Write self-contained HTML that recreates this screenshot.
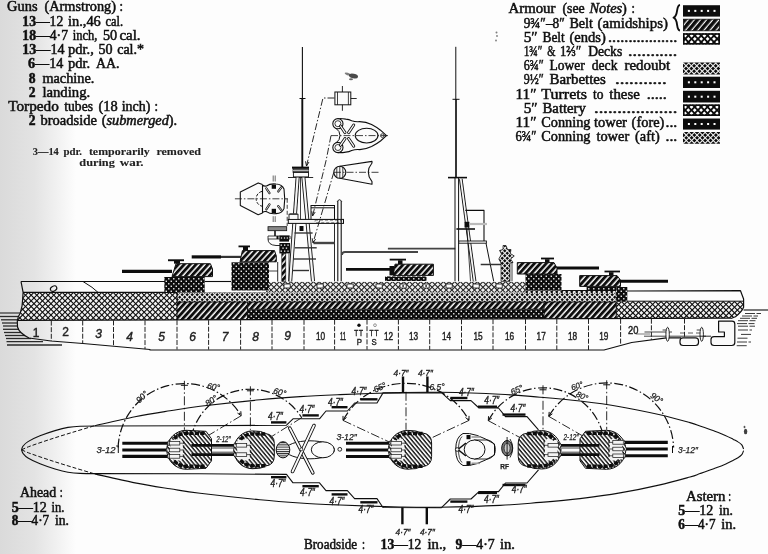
<!DOCTYPE html>
<html><head><meta charset="utf-8"><title>Battleship plan</title>
<style>html,body{margin:0;padding:0;background:#fdfdfd;}svg{display:block}</style>
</head><body>
<svg width="768" height="554" viewBox="0 0 768 554">
<filter id="soft" x="0" y="0" width="100%" height="100%" filterUnits="userSpaceOnUse"><feGaussianBlur stdDeviation="0.3"/></filter>
<g filter="url(#soft)">
<defs>
<linearGradient id="lg" x1="0" x2="1" y1="0" y2="0">
<stop offset="0" stop-color="#dadada"/><stop offset="0.45" stop-color="#e3e3e3"/><stop offset="0.75" stop-color="#f1f1f1"/><stop offset="1" stop-color="#fdfdfd"/>
</linearGradient>
<pattern id="dot" width="5" height="5" patternUnits="userSpaceOnUse">
<rect width="5" height="5" fill="#111"/><rect x="0.6" y="0.6" width="1.35" height="1.35" fill="#fff"/><rect x="3.1" y="3.1" width="1.35" height="1.35" fill="#fff"/>
</pattern>
<pattern id="diag" width="4.4" height="4.4" patternUnits="userSpaceOnUse" patternTransform="rotate(-48)">
<rect width="4.4" height="4.4" fill="#fafafa"/><rect width="4.4" height="2.9" fill="#111"/>
</pattern>
<pattern id="diagL" width="4.7" height="4.7" patternUnits="userSpaceOnUse" patternTransform="rotate(-50)">
<rect width="4.7" height="4.7" fill="#fafafa"/><rect width="4.7" height="3.5" fill="#111"/>
</pattern>
<pattern id="xh" width="5.66" height="5.66" patternUnits="userSpaceOnUse">
<rect width="5.66" height="5.66" fill="#f0f0f0"/><path d="M-1,-1 L6.66,6.66 M-1,6.66 L6.66,-1 M-1,4.66 L1,6.66 M4.66,-1 L6.66,1 M4.66,6.66 L6.66,4.66 M-1,1 L1,-1" stroke="#111" stroke-width="1.15" fill="none"/>
</pattern>
<pattern id="xhL" width="4.6" height="4.6" patternUnits="userSpaceOnUse" patternTransform="rotate(45)">
<rect width="4.6" height="4.6" fill="#111"/><rect x="1" y="1" width="2.6" height="2.6" fill="#fff"/>
</pattern>
<pattern id="xfL" width="3.9" height="3.9" patternUnits="userSpaceOnUse" patternTransform="rotate(45)">
<rect width="3.9" height="3.9" fill="#111"/><rect x="0.9" y="0.9" width="2.15" height="2.15" fill="#fff"/>
</pattern>
<pattern id="xb" width="4" height="4" patternUnits="userSpaceOnUse" patternTransform="rotate(45)">
<rect width="4" height="4" fill="#2a2a2a"/><rect x="0.6" y="0.6" width="2.9" height="2.9" fill="#eee"/>
</pattern>
<pattern id="xf" width="3.75" height="3.75" patternUnits="userSpaceOnUse" patternTransform="rotate(45)">
<rect width="3.75" height="3.75" fill="#111"/><rect x="0.75" y="0.75" width="2.3" height="2.3" fill="#f4f4f4"/>
</pattern>
<pattern id="hl" width="3" height="2.2" patternUnits="userSpaceOnUse">
<rect width="3" height="2.2" fill="#fafafa"/><rect width="3" height="1" fill="#222"/>
</pattern>
</defs>
<rect x="0.0" y="0.0" width="768.0" height="554.0" fill="#fdfdfd" stroke="none" stroke-width="1" rx="0" />
<rect x="0.0" y="0.0" width="76.0" height="554.0" fill="url(#lg)" stroke="none" stroke-width="1" rx="0" />
<text x="7.0" y="11.3" font-size="13.6" font-family='"Liberation Serif", serif' font-weight="normal" font-style="normal" text-anchor="start" fill="#111" textLength="30.5" lengthAdjust="spacingAndGlyphs"  stroke="#111" stroke-width="0.5">Guns</text>
<text x="44.5" y="11.3" font-size="13.6" font-family='"Liberation Serif", serif' font-weight="normal" font-style="normal" text-anchor="start" fill="#111" textLength="71.5" lengthAdjust="spacingAndGlyphs"  stroke="#111" stroke-width="0.5">(Armstrong)</text>
<text x="119.5" y="11.3" font-size="13.6" font-family='"Liberation Serif", serif' font-weight="normal" font-style="normal" text-anchor="start" fill="#111" textLength="3.5" lengthAdjust="spacingAndGlyphs"  stroke="#111" stroke-width="0.5">:</text>
<text x="22.3" y="25.6" font-size="13.6" font-family='"Liberation Serif", serif' font-weight="normal" font-style="normal" text-anchor="start" fill="#111" textLength="41.0" lengthAdjust="spacingAndGlyphs"  stroke="#111" stroke-width="0.5"><tspan font-weight="bold">13</tspan>—12</text>
<text x="68.0" y="25.6" font-size="13.6" font-family='"Liberation Serif", serif' font-weight="normal" font-style="normal" text-anchor="start" fill="#111" textLength="32.8" lengthAdjust="spacingAndGlyphs"  stroke="#111" stroke-width="0.5">in.,46</text>
<text x="105.5" y="25.6" font-size="13.6" font-family='"Liberation Serif", serif' font-weight="normal" font-style="normal" text-anchor="start" fill="#111" textLength="17.5" lengthAdjust="spacingAndGlyphs"  stroke="#111" stroke-width="0.5">cal.</text>
<text x="22.3" y="40.0" font-size="13.6" font-family='"Liberation Serif", serif' font-weight="normal" font-style="normal" text-anchor="start" fill="#111" textLength="45.7" lengthAdjust="spacingAndGlyphs"  stroke="#111" stroke-width="0.5"><tspan font-weight="bold">18</tspan>—4·7</text>
<text x="72.7" y="40.0" font-size="13.6" font-family='"Liberation Serif", serif' font-weight="normal" font-style="normal" text-anchor="start" fill="#111" textLength="24.6" lengthAdjust="spacingAndGlyphs"  stroke="#111" stroke-width="0.5">inch,</text>
<text x="103.0" y="40.0" font-size="13.6" font-family='"Liberation Serif", serif' font-weight="normal" font-style="normal" text-anchor="start" fill="#111" textLength="14.2" lengthAdjust="spacingAndGlyphs"  stroke="#111" stroke-width="0.5">50</text>
<text x="119.5" y="40.0" font-size="13.6" font-family='"Liberation Serif", serif' font-weight="normal" font-style="normal" text-anchor="start" fill="#111" textLength="21.1" lengthAdjust="spacingAndGlyphs"  stroke="#111" stroke-width="0.5">cal.</text>
<text x="22.3" y="54.2" font-size="13.6" font-family='"Liberation Serif", serif' font-weight="normal" font-style="normal" text-anchor="start" fill="#111" textLength="42.2" lengthAdjust="spacingAndGlyphs"  stroke="#111" stroke-width="0.5"><tspan font-weight="bold">13</tspan>—14</text>
<text x="68.0" y="54.2" font-size="13.6" font-family='"Liberation Serif", serif' font-weight="normal" font-style="normal" text-anchor="start" fill="#111" textLength="25.8" lengthAdjust="spacingAndGlyphs"  stroke="#111" stroke-width="0.5">pdr.,</text>
<text x="98.4" y="54.2" font-size="13.6" font-family='"Liberation Serif", serif' font-weight="normal" font-style="normal" text-anchor="start" fill="#111" textLength="14.1" lengthAdjust="spacingAndGlyphs"  stroke="#111" stroke-width="0.5">50</text>
<text x="117.2" y="54.2" font-size="13.6" font-family='"Liberation Serif", serif' font-weight="normal" font-style="normal" text-anchor="start" fill="#111" textLength="26.8" lengthAdjust="spacingAndGlyphs"  stroke="#111" stroke-width="0.5">cal.*</text>
<text x="28.0" y="68.4" font-size="13.6" font-family='"Liberation Serif", serif' font-weight="normal" font-style="normal" text-anchor="start" fill="#111" textLength="35.3" lengthAdjust="spacingAndGlyphs"  stroke="#111" stroke-width="0.5"><tspan font-weight="bold">6</tspan>—14</text>
<text x="68.0" y="68.4" font-size="13.6" font-family='"Liberation Serif", serif' font-weight="normal" font-style="normal" text-anchor="start" fill="#111" textLength="22.2" lengthAdjust="spacingAndGlyphs"  stroke="#111" stroke-width="0.5">pdr.</text>
<text x="96.0" y="68.4" font-size="13.6" font-family='"Liberation Serif", serif' font-weight="normal" font-style="normal" text-anchor="start" fill="#111" textLength="23.5" lengthAdjust="spacingAndGlyphs"  stroke="#111" stroke-width="0.5">AA.</text>
<text x="28.7" y="82.6" font-size="13.6" font-family='"Liberation Serif", serif' font-weight="normal" font-style="normal" text-anchor="start" fill="#111" textLength="6.8" lengthAdjust="spacingAndGlyphs"  stroke="#111" stroke-width="0.5"><tspan font-weight="bold">8</tspan></text>
<text x="42.4" y="82.6" font-size="13.6" font-family='"Liberation Serif", serif' font-weight="normal" font-style="normal" text-anchor="start" fill="#111" textLength="51.9" lengthAdjust="spacingAndGlyphs"  stroke="#111" stroke-width="0.5">machine.</text>
<text x="28.7" y="96.8" font-size="13.6" font-family='"Liberation Serif", serif' font-weight="normal" font-style="normal" text-anchor="start" fill="#111" textLength="6.8" lengthAdjust="spacingAndGlyphs"  stroke="#111" stroke-width="0.5"><tspan font-weight="bold">2</tspan></text>
<text x="42.4" y="96.8" font-size="13.6" font-family='"Liberation Serif", serif' font-weight="normal" font-style="normal" text-anchor="start" fill="#111" textLength="47.8" lengthAdjust="spacingAndGlyphs"  stroke="#111" stroke-width="0.5">landing.</text>
<text x="8.2" y="111.0" font-size="13.6" font-family='"Liberation Serif", serif' font-weight="normal" font-style="normal" text-anchor="start" fill="#111" textLength="50.6" lengthAdjust="spacingAndGlyphs"  stroke="#111" stroke-width="0.5">Torpedo</text>
<text x="64.3" y="111.0" font-size="13.6" font-family='"Liberation Serif", serif' font-weight="normal" font-style="normal" text-anchor="start" fill="#111" textLength="28.7" lengthAdjust="spacingAndGlyphs"  stroke="#111" stroke-width="0.5">tubes</text>
<text x="98.4" y="111.0" font-size="13.6" font-family='"Liberation Serif", serif' font-weight="normal" font-style="normal" text-anchor="start" fill="#111" textLength="19.2" lengthAdjust="spacingAndGlyphs"  stroke="#111" stroke-width="0.5">(18</text>
<text x="121.7" y="111.0" font-size="13.6" font-family='"Liberation Serif", serif' font-weight="normal" font-style="normal" text-anchor="start" fill="#111" textLength="28.7" lengthAdjust="spacingAndGlyphs"  stroke="#111" stroke-width="0.5">inch)</text>
<text x="154.5" y="111.0" font-size="13.6" font-family='"Liberation Serif", serif' font-weight="normal" font-style="normal" text-anchor="start" fill="#111" textLength="3.5" lengthAdjust="spacingAndGlyphs"  stroke="#111" stroke-width="0.5">:</text>
<text x="28.7" y="125.2" font-size="13.6" font-family='"Liberation Serif", serif' font-weight="normal" font-style="normal" text-anchor="start" fill="#111" textLength="6.8" lengthAdjust="spacingAndGlyphs"  stroke="#111" stroke-width="0.5"><tspan font-weight="bold">2</tspan></text>
<text x="40.5" y="125.2" font-size="13.6" font-family='"Liberation Serif", serif' font-weight="normal" font-style="normal" text-anchor="start" fill="#111" textLength="56.5" lengthAdjust="spacingAndGlyphs"  stroke="#111" stroke-width="0.5">broadside</text>
<text x="101.7" y="125.2" font-size="13.6" font-family='"Liberation Serif", serif' font-weight="normal" font-style="normal" text-anchor="start" fill="#111" textLength="75.5" lengthAdjust="spacingAndGlyphs"  stroke="#111" stroke-width="0.5">(<tspan font-style="italic">submerged</tspan>).</text>
<text x="32.8" y="154.8" font-size="10.4" font-family='"Liberation Serif", serif' font-weight="bold" font-style="normal" text-anchor="start" fill="#222" textLength="26.0" lengthAdjust="spacingAndGlyphs"  stroke="#222" stroke-width="0.1">3—14</text>
<text x="63.4" y="154.8" font-size="10.4" font-family='"Liberation Serif", serif' font-weight="bold" font-style="normal" text-anchor="start" fill="#222" textLength="18.6" lengthAdjust="spacingAndGlyphs"  stroke="#222" stroke-width="0.1">pdr.</text>
<text x="88.9" y="154.8" font-size="10.4" font-family='"Liberation Serif", serif' font-weight="bold" font-style="normal" text-anchor="start" fill="#222" textLength="60.9" lengthAdjust="spacingAndGlyphs"  stroke="#222" stroke-width="0.1">temporarily</text>
<text x="156.4" y="154.8" font-size="10.4" font-family='"Liberation Serif", serif' font-weight="bold" font-style="normal" text-anchor="start" fill="#222" textLength="44.6" lengthAdjust="spacingAndGlyphs"  stroke="#222" stroke-width="0.1">removed</text>
<text x="79.3" y="166.3" font-size="10.4" font-family='"Liberation Serif", serif' font-weight="bold" font-style="normal" text-anchor="start" fill="#222" textLength="35.5" lengthAdjust="spacingAndGlyphs"  stroke="#222" stroke-width="0.1">during</text>
<text x="119.8" y="166.3" font-size="10.4" font-family='"Liberation Serif", serif' font-weight="bold" font-style="normal" text-anchor="start" fill="#222" textLength="23.8" lengthAdjust="spacingAndGlyphs"  stroke="#222" stroke-width="0.1">war.</text>
<text x="508.5" y="12.9" font-size="13.6" font-family='"Liberation Serif", serif' font-weight="normal" font-style="normal" text-anchor="start" fill="#111" textLength="46.9" lengthAdjust="spacingAndGlyphs"  stroke="#111" stroke-width="0.5">Armour</text>
<text x="562.4" y="12.9" font-size="13.6" font-family='"Liberation Serif", serif' font-weight="normal" font-style="normal" text-anchor="start" fill="#111" textLength="22.3" lengthAdjust="spacingAndGlyphs"  stroke="#111" stroke-width="0.5">(see</text>
<text x="589.4" y="12.9" font-size="13.6" font-family='"Liberation Serif", serif' font-weight="normal" font-style="normal" text-anchor="start" fill="#111" textLength="37.5" lengthAdjust="spacingAndGlyphs"  stroke="#111" stroke-width="0.5"><tspan font-style="italic">Notes</tspan>)</text>
<text x="631.6" y="12.9" font-size="13.6" font-family='"Liberation Serif", serif' font-weight="normal" font-style="normal" text-anchor="start" fill="#111" textLength="3.4" lengthAdjust="spacingAndGlyphs"  stroke="#111" stroke-width="0.5">:</text>
<text x="523.7" y="27.7" font-size="13.6" font-family='"Liberation Serif", serif' font-weight="normal" font-style="normal" text-anchor="start" fill="#111" textLength="41.1" lengthAdjust="spacingAndGlyphs"  stroke="#111" stroke-width="0.5">9¾″–8″</text>
<text x="569.4" y="27.7" font-size="13.6" font-family='"Liberation Serif", serif' font-weight="normal" font-style="normal" text-anchor="start" fill="#111" textLength="23.5" lengthAdjust="spacingAndGlyphs"  stroke="#111" stroke-width="0.5">Belt</text>
<text x="597.6" y="27.7" font-size="13.6" font-family='"Liberation Serif", serif' font-weight="normal" font-style="normal" text-anchor="start" fill="#111" textLength="70.3" lengthAdjust="spacingAndGlyphs"  stroke="#111" stroke-width="0.5">(amidships)</text>
<text x="523.7" y="42.2" font-size="13.6" font-family='"Liberation Serif", serif' font-weight="normal" font-style="normal" text-anchor="start" fill="#111" textLength="14.1" lengthAdjust="spacingAndGlyphs"  stroke="#111" stroke-width="0.5">5″</text>
<text x="542.5" y="42.2" font-size="13.6" font-family='"Liberation Serif", serif' font-weight="normal" font-style="normal" text-anchor="start" fill="#111" textLength="22.3" lengthAdjust="spacingAndGlyphs"  stroke="#111" stroke-width="0.5">Belt</text>
<text x="569.4" y="42.2" font-size="13.6" font-family='"Liberation Serif", serif' font-weight="normal" font-style="normal" text-anchor="start" fill="#111" textLength="36.4" lengthAdjust="spacingAndGlyphs"  stroke="#111" stroke-width="0.5">(ends)</text>
<text x="608.0" y="42.2" font-size="13.6" font-family='"Liberation Serif", serif' font-weight="normal" font-style="normal" text-anchor="start" fill="#111" textLength="69.3" lengthAdjust="spacingAndGlyphs"  stroke="#111" stroke-width="0.5">.................</text>
<text x="523.7" y="56.2" font-size="13.6" font-family='"Liberation Serif", serif' font-weight="normal" font-style="normal" text-anchor="start" fill="#111" textLength="18.8" lengthAdjust="spacingAndGlyphs"  stroke="#111" stroke-width="0.5">1¾″</text>
<text x="547.2" y="56.2" font-size="13.6" font-family='"Liberation Serif", serif' font-weight="normal" font-style="normal" text-anchor="start" fill="#111" textLength="8.2" lengthAdjust="spacingAndGlyphs"  stroke="#111" stroke-width="0.5">&amp;</text>
<text x="560.0" y="56.2" font-size="13.6" font-family='"Liberation Serif", serif' font-weight="normal" font-style="normal" text-anchor="start" fill="#111" textLength="21.2" lengthAdjust="spacingAndGlyphs"  stroke="#111" stroke-width="0.5">1⅔″</text>
<text x="588.2" y="56.2" font-size="13.6" font-family='"Liberation Serif", serif' font-weight="normal" font-style="normal" text-anchor="start" fill="#111" textLength="34.0" lengthAdjust="spacingAndGlyphs"  stroke="#111" stroke-width="0.5">Decks</text>
<text x="628.0" y="56.2" font-size="13.6" font-family='"Liberation Serif", serif' font-weight="normal" font-style="normal" text-anchor="start" fill="#111" textLength="49.3" lengthAdjust="spacingAndGlyphs"  stroke="#111" stroke-width="0.5">...........</text>
<text x="523.7" y="70.4" font-size="13.6" font-family='"Liberation Serif", serif' font-weight="normal" font-style="normal" text-anchor="start" fill="#111" textLength="20.0" lengthAdjust="spacingAndGlyphs"  stroke="#111" stroke-width="0.5">6¾″</text>
<text x="549.5" y="70.4" font-size="13.6" font-family='"Liberation Serif", serif' font-weight="normal" font-style="normal" text-anchor="start" fill="#111" textLength="35.2" lengthAdjust="spacingAndGlyphs"  stroke="#111" stroke-width="0.5">Lower</text>
<text x="591.7" y="70.4" font-size="13.6" font-family='"Liberation Serif", serif' font-weight="normal" font-style="normal" text-anchor="start" fill="#111" textLength="25.8" lengthAdjust="spacingAndGlyphs"  stroke="#111" stroke-width="0.5">deck</text>
<text x="624.5" y="70.4" font-size="13.6" font-family='"Liberation Serif", serif' font-weight="normal" font-style="normal" text-anchor="start" fill="#111" textLength="45.7" lengthAdjust="spacingAndGlyphs"  stroke="#111" stroke-width="0.5">redoubt</text>
<text x="523.7" y="84.4" font-size="13.6" font-family='"Liberation Serif", serif' font-weight="normal" font-style="normal" text-anchor="start" fill="#111" textLength="20.0" lengthAdjust="spacingAndGlyphs"  stroke="#111" stroke-width="0.5">9½″</text>
<text x="549.5" y="84.4" font-size="13.6" font-family='"Liberation Serif", serif' font-weight="normal" font-style="normal" text-anchor="start" fill="#111" textLength="56.3" lengthAdjust="spacingAndGlyphs"  stroke="#111" stroke-width="0.5">Barbettes</text>
<text x="615.0" y="84.4" font-size="13.6" font-family='"Liberation Serif", serif' font-weight="normal" font-style="normal" text-anchor="start" fill="#111" textLength="51.7" lengthAdjust="spacingAndGlyphs"  stroke="#111" stroke-width="0.5">...........</text>
<text x="515.5" y="98.6" font-size="13.6" font-family='"Liberation Serif", serif' font-weight="normal" font-style="normal" text-anchor="start" fill="#111" textLength="21.1" lengthAdjust="spacingAndGlyphs"  stroke="#111" stroke-width="0.5">11″</text>
<text x="541.3" y="98.6" font-size="13.6" font-family='"Liberation Serif", serif' font-weight="normal" font-style="normal" text-anchor="start" fill="#111" textLength="45.7" lengthAdjust="spacingAndGlyphs"  stroke="#111" stroke-width="0.5">Turrets</text>
<text x="592.9" y="98.6" font-size="13.6" font-family='"Liberation Serif", serif' font-weight="normal" font-style="normal" text-anchor="start" fill="#111" textLength="10.5" lengthAdjust="spacingAndGlyphs"  stroke="#111" stroke-width="0.5">to</text>
<text x="609.3" y="98.6" font-size="13.6" font-family='"Liberation Serif", serif' font-weight="normal" font-style="normal" text-anchor="start" fill="#111" textLength="30.5" lengthAdjust="spacingAndGlyphs"  stroke="#111" stroke-width="0.5">these</text>
<text x="646.8" y="98.6" font-size="13.6" font-family='"Liberation Serif", serif' font-weight="normal" font-style="normal" text-anchor="start" fill="#111" textLength="19.9" lengthAdjust="spacingAndGlyphs"  stroke="#111" stroke-width="0.5">.....</text>
<text x="523.7" y="112.6" font-size="13.6" font-family='"Liberation Serif", serif' font-weight="normal" font-style="normal" text-anchor="start" fill="#111" textLength="14.1" lengthAdjust="spacingAndGlyphs"  stroke="#111" stroke-width="0.5">5″</text>
<text x="542.5" y="112.6" font-size="13.6" font-family='"Liberation Serif", serif' font-weight="normal" font-style="normal" text-anchor="start" fill="#111" textLength="43.4" lengthAdjust="spacingAndGlyphs"  stroke="#111" stroke-width="0.5">Battery</text>
<text x="594.0" y="112.6" font-size="13.6" font-family='"Liberation Serif", serif' font-weight="normal" font-style="normal" text-anchor="start" fill="#111" textLength="83.3" lengthAdjust="spacingAndGlyphs"  stroke="#111" stroke-width="0.5">..................</text>
<text x="515.5" y="127.1" font-size="13.6" font-family='"Liberation Serif", serif' font-weight="normal" font-style="normal" text-anchor="start" fill="#111" textLength="21.1" lengthAdjust="spacingAndGlyphs"  stroke="#111" stroke-width="0.5">11″</text>
<text x="541.3" y="127.1" font-size="13.6" font-family='"Liberation Serif", serif' font-weight="normal" font-style="normal" text-anchor="start" fill="#111" textLength="49.2" lengthAdjust="spacingAndGlyphs"  stroke="#111" stroke-width="0.5">Conning</text>
<text x="594.0" y="127.1" font-size="13.6" font-family='"Liberation Serif", serif' font-weight="normal" font-style="normal" text-anchor="start" fill="#111" textLength="32.9" lengthAdjust="spacingAndGlyphs"  stroke="#111" stroke-width="0.5">tower</text>
<text x="631.6" y="127.1" font-size="13.6" font-family='"Liberation Serif", serif' font-weight="normal" font-style="normal" text-anchor="start" fill="#111" textLength="32.8" lengthAdjust="spacingAndGlyphs"  stroke="#111" stroke-width="0.5">(fore)</text>
<text x="665.5" y="127.1" font-size="13.6" font-family='"Liberation Serif", serif' font-weight="normal" font-style="normal" text-anchor="start" fill="#111" textLength="11.8" lengthAdjust="spacingAndGlyphs"  stroke="#111" stroke-width="0.5">...</text>
<text x="515.5" y="141.2" font-size="13.6" font-family='"Liberation Serif", serif' font-weight="normal" font-style="normal" text-anchor="start" fill="#111" textLength="21.1" lengthAdjust="spacingAndGlyphs"  stroke="#111" stroke-width="0.5">6¾″</text>
<text x="541.3" y="141.2" font-size="13.6" font-family='"Liberation Serif", serif' font-weight="normal" font-style="normal" text-anchor="start" fill="#111" textLength="49.2" lengthAdjust="spacingAndGlyphs"  stroke="#111" stroke-width="0.5">Conning</text>
<text x="596.4" y="141.2" font-size="13.6" font-family='"Liberation Serif", serif' font-weight="normal" font-style="normal" text-anchor="start" fill="#111" textLength="32.8" lengthAdjust="spacingAndGlyphs"  stroke="#111" stroke-width="0.5">tower</text>
<text x="635.0" y="141.2" font-size="13.6" font-family='"Liberation Serif", serif' font-weight="normal" font-style="normal" text-anchor="start" fill="#111" textLength="24.7" lengthAdjust="spacingAndGlyphs"  stroke="#111" stroke-width="0.5">(aft)</text>
<text x="665.5" y="141.2" font-size="13.6" font-family='"Liberation Serif", serif' font-weight="normal" font-style="normal" text-anchor="start" fill="#111" textLength="11.8" lengthAdjust="spacingAndGlyphs"  stroke="#111" stroke-width="0.5">...</text>
<path d="M680,5 C675.5,5.5 678.8,16 673.5,17.6 C678.8,19.2 675.5,30 680,30.5" fill="none" stroke="#111" stroke-width="1.9" stroke-linejoin="round" />
<rect x="683.0" y="5.2" width="37.0" height="11.4" fill="#111" stroke="none" stroke-width="1" rx="0" />
<rect x="687.9" y="9.9" width="2.0" height="2.0" fill="#fff" stroke="none" stroke-width="1" rx="0" />
<rect x="694.3" y="9.9" width="2.0" height="2.0" fill="#fff" stroke="none" stroke-width="1" rx="0" />
<rect x="700.7" y="9.9" width="2.0" height="2.0" fill="#fff" stroke="none" stroke-width="1" rx="0" />
<rect x="707.1" y="9.9" width="2.0" height="2.0" fill="#fff" stroke="none" stroke-width="1" rx="0" />
<rect x="713.5" y="9.9" width="2.0" height="2.0" fill="#fff" stroke="none" stroke-width="1" rx="0" />
<rect x="683.4" y="19.2" width="36.2" height="11.6" fill="url(#diagL)" stroke="#111" stroke-width="0.8" rx="0" />
<clipPath id="hc1"><path d="M683,33.2 H720 V44.6 H683 Z"/></clipPath><g clip-path="url(#hc1)">
<rect x="682.0" y="32.2" width="39.0" height="13.4" fill="#fff"/>
<path d="M684.50,33.2L673.10,44.6M690.90,33.2L679.50,44.6M697.30,33.2L685.90,44.6M703.70,33.2L692.30,44.6M710.10,33.2L698.70,44.6M716.50,33.2L705.10,44.6M722.90,33.2L711.50,44.6M729.30,33.2L717.90,44.6M735.70,33.2L724.30,44.6" stroke="#111" stroke-width="1.9" fill="none"/>
<path d="M666.70,33.2L678.10,44.6M673.10,33.2L684.50,44.6M679.50,33.2L690.90,44.6M685.90,33.2L697.30,44.6M692.30,33.2L703.70,44.6M698.70,33.2L710.10,44.6M705.10,33.2L716.50,44.6M711.50,33.2L722.90,44.6M717.90,33.2L729.30,44.6M724.30,33.2L735.70,44.6" stroke="#111" stroke-width="1.9" fill="none"/>
</g>
<rect x="683.8" y="34.0" width="35.4" height="9.8" fill="none" stroke="#111" stroke-width="1.6" rx="0" />
<clipPath id="hc2"><path d="M683,62.4 H720 V74.6 H683 Z"/></clipPath><g clip-path="url(#hc2)">
<rect x="682.0" y="61.4" width="39.0" height="14.2" fill="#111"/>
<path d="M684.00,62.4L671.80,74.6M689.40,62.4L677.20,74.6M694.80,62.4L682.60,74.6M700.20,62.4L688.00,74.6M705.60,62.4L693.40,74.6M711.00,62.4L698.80,74.6M716.40,62.4L704.20,74.6M721.80,62.4L709.60,74.6M727.20,62.4L715.00,74.6M732.60,62.4L720.40,74.6" stroke="#f2f2f2" stroke-width="1.05" fill="none"/>
<path d="M666.40,62.4L678.60,74.6M671.80,62.4L684.00,74.6M677.20,62.4L689.40,74.6M682.60,62.4L694.80,74.6M688.00,62.4L700.20,74.6M693.40,62.4L705.60,74.6M698.80,62.4L711.00,74.6M704.20,62.4L716.40,74.6M709.60,62.4L721.80,74.6M715.00,62.4L727.20,74.6M720.40,62.4L732.60,74.6" stroke="#f2f2f2" stroke-width="1.05" fill="none"/>
</g>
<rect x="683.0" y="76.7" width="37.0" height="11.3" fill="#111" stroke="none" stroke-width="1" rx="0" />
<rect x="687.9" y="81.3" width="2.0" height="2.0" fill="#fff" stroke="none" stroke-width="1" rx="0" />
<rect x="694.3" y="81.3" width="2.0" height="2.0" fill="#fff" stroke="none" stroke-width="1" rx="0" />
<rect x="700.7" y="81.3" width="2.0" height="2.0" fill="#fff" stroke="none" stroke-width="1" rx="0" />
<rect x="707.1" y="81.3" width="2.0" height="2.0" fill="#fff" stroke="none" stroke-width="1" rx="0" />
<rect x="713.5" y="81.3" width="2.0" height="2.0" fill="#fff" stroke="none" stroke-width="1" rx="0" />
<rect x="683.0" y="90.8" width="37.0" height="11.7" fill="#111" stroke="none" stroke-width="1" rx="0" />
<rect x="687.9" y="95.7" width="2.0" height="2.0" fill="#fff" stroke="none" stroke-width="1" rx="0" />
<rect x="694.3" y="95.7" width="2.0" height="2.0" fill="#fff" stroke="none" stroke-width="1" rx="0" />
<rect x="700.7" y="95.7" width="2.0" height="2.0" fill="#fff" stroke="none" stroke-width="1" rx="0" />
<rect x="707.1" y="95.7" width="2.0" height="2.0" fill="#fff" stroke="none" stroke-width="1" rx="0" />
<rect x="713.5" y="95.7" width="2.0" height="2.0" fill="#fff" stroke="none" stroke-width="1" rx="0" />
<clipPath id="hc3"><path d="M683,104.4 H720 V116 H683 Z"/></clipPath><g clip-path="url(#hc3)">
<rect x="682.0" y="103.4" width="39.0" height="13.6" fill="#fff"/>
<path d="M684.50,104.4L672.90,116.0M690.90,104.4L679.30,116.0M697.30,104.4L685.70,116.0M703.70,104.4L692.10,116.0M710.10,104.4L698.50,116.0M716.50,104.4L704.90,116.0M722.90,104.4L711.30,116.0M729.30,104.4L717.70,116.0M735.70,104.4L724.10,116.0" stroke="#111" stroke-width="1.8" fill="none"/>
<path d="M666.50,104.4L678.10,116.0M672.90,104.4L684.50,116.0M679.30,104.4L690.90,116.0M685.70,104.4L697.30,116.0M692.10,104.4L703.70,116.0M698.50,104.4L710.10,116.0M704.90,104.4L716.50,116.0M711.30,104.4L722.90,116.0M717.70,104.4L729.30,116.0M724.10,104.4L735.70,116.0" stroke="#111" stroke-width="1.8" fill="none"/>
</g>
<rect x="683.8" y="105.2" width="35.4" height="10.0" fill="none" stroke="#111" stroke-width="1.6" rx="0" />
<rect x="683.0" y="118.5" width="37.0" height="11.1" fill="#111" stroke="none" stroke-width="1" rx="0" />
<rect x="687.9" y="123.0" width="2.0" height="2.0" fill="#fff" stroke="none" stroke-width="1" rx="0" />
<rect x="694.3" y="123.0" width="2.0" height="2.0" fill="#fff" stroke="none" stroke-width="1" rx="0" />
<rect x="700.7" y="123.0" width="2.0" height="2.0" fill="#fff" stroke="none" stroke-width="1" rx="0" />
<rect x="707.1" y="123.0" width="2.0" height="2.0" fill="#fff" stroke="none" stroke-width="1" rx="0" />
<rect x="713.5" y="123.0" width="2.0" height="2.0" fill="#fff" stroke="none" stroke-width="1" rx="0" />
<clipPath id="hc4"><path d="M683,132 H720 V143.7 H683 Z"/></clipPath><g clip-path="url(#hc4)">
<rect x="682.0" y="131.0" width="39.0" height="13.7" fill="#111"/>
<path d="M684.00,132.0L672.30,143.7M689.40,132.0L677.70,143.7M694.80,132.0L683.10,143.7M700.20,132.0L688.50,143.7M705.60,132.0L693.90,143.7M711.00,132.0L699.30,143.7M716.40,132.0L704.70,143.7M721.80,132.0L710.10,143.7M727.20,132.0L715.50,143.7M732.60,132.0L720.90,143.7" stroke="#f2f2f2" stroke-width="1.05" fill="none"/>
<path d="M666.90,132.0L678.60,143.7M672.30,132.0L684.00,143.7M677.70,132.0L689.40,143.7M683.10,132.0L694.80,143.7M688.50,132.0L700.20,143.7M693.90,132.0L705.60,143.7M699.30,132.0L711.00,143.7M704.70,132.0L716.40,143.7M710.10,132.0L721.80,143.7M715.50,132.0L727.20,143.7M720.90,132.0L732.60,143.7" stroke="#f2f2f2" stroke-width="1.05" fill="none"/>
</g>
<text x="20.0" y="496.9" font-size="13.6" font-family='"Liberation Serif", serif' font-weight="normal" font-style="normal" text-anchor="start" fill="#111" textLength="36.2" lengthAdjust="spacingAndGlyphs"  stroke="#111" stroke-width="0.5">Ahead</text>
<text x="59.8" y="496.9" font-size="13.6" font-family='"Liberation Serif", serif' font-weight="normal" font-style="normal" text-anchor="start" fill="#111" textLength="3.0" lengthAdjust="spacingAndGlyphs"  stroke="#111" stroke-width="0.5">:</text>
<text x="11.7" y="511.6" font-size="13.6" font-family='"Liberation Serif", serif' font-weight="normal" font-style="normal" text-anchor="start" fill="#111" textLength="35.2" lengthAdjust="spacingAndGlyphs"  stroke="#111" stroke-width="0.5"><tspan font-weight="bold">5</tspan>—12</text>
<text x="51.6" y="511.6" font-size="13.6" font-family='"Liberation Serif", serif' font-weight="normal" font-style="normal" text-anchor="start" fill="#111" textLength="12.9" lengthAdjust="spacingAndGlyphs"  stroke="#111" stroke-width="0.5">in.</text>
<text x="11.7" y="525.2" font-size="13.6" font-family='"Liberation Serif", serif' font-weight="normal" font-style="normal" text-anchor="start" fill="#111" textLength="37.5" lengthAdjust="spacingAndGlyphs"  stroke="#111" stroke-width="0.5"><tspan font-weight="bold">8</tspan>—4·7</text>
<text x="55.0" y="525.2" font-size="13.6" font-family='"Liberation Serif", serif' font-weight="normal" font-style="normal" text-anchor="start" fill="#111" textLength="14.0" lengthAdjust="spacingAndGlyphs"  stroke="#111" stroke-width="0.5">in.</text>
<text x="304.0" y="549.0" font-size="13.6" font-family='"Liberation Serif", serif' font-weight="normal" font-style="normal" text-anchor="start" fill="#111" textLength="53.2" lengthAdjust="spacingAndGlyphs"  stroke="#111" stroke-width="0.5">Broadside</text>
<text x="362.0" y="549.0" font-size="13.6" font-family='"Liberation Serif", serif' font-weight="normal" font-style="normal" text-anchor="start" fill="#111" textLength="3.0" lengthAdjust="spacingAndGlyphs"  stroke="#111" stroke-width="0.5">:</text>
<text x="380.6" y="549.0" font-size="13.6" font-family='"Liberation Serif", serif' font-weight="normal" font-style="normal" text-anchor="start" fill="#111" textLength="40.7" lengthAdjust="spacingAndGlyphs"  stroke="#111" stroke-width="0.5"><tspan font-weight="bold">13</tspan>—12</text>
<text x="427.5" y="549.0" font-size="13.6" font-family='"Liberation Serif", serif' font-weight="normal" font-style="normal" text-anchor="start" fill="#111" textLength="18.8" lengthAdjust="spacingAndGlyphs"  stroke="#111" stroke-width="0.5">in.,</text>
<text x="455.6" y="549.0" font-size="13.6" font-family='"Liberation Serif", serif' font-weight="normal" font-style="normal" text-anchor="start" fill="#111" textLength="39.1" lengthAdjust="spacingAndGlyphs"  stroke="#111" stroke-width="0.5"><tspan font-weight="bold">9</tspan>—4·7</text>
<text x="500.0" y="549.0" font-size="13.6" font-family='"Liberation Serif", serif' font-weight="normal" font-style="normal" text-anchor="start" fill="#111" textLength="15.0" lengthAdjust="spacingAndGlyphs"  stroke="#111" stroke-width="0.5">in.</text>
<text x="686.0" y="501.0" font-size="13.6" font-family='"Liberation Serif", serif' font-weight="normal" font-style="normal" text-anchor="start" fill="#111" textLength="39.4" lengthAdjust="spacingAndGlyphs"  stroke="#111" stroke-width="0.5">Astern</text>
<text x="728.2" y="501.0" font-size="13.6" font-family='"Liberation Serif", serif' font-weight="normal" font-style="normal" text-anchor="start" fill="#111" textLength="2.8" lengthAdjust="spacingAndGlyphs"  stroke="#111" stroke-width="0.5">:</text>
<text x="678.3" y="515.0" font-size="13.6" font-family='"Liberation Serif", serif' font-weight="normal" font-style="normal" text-anchor="start" fill="#111" textLength="35.1" lengthAdjust="spacingAndGlyphs"  stroke="#111" stroke-width="0.5"><tspan font-weight="bold">5</tspan>—12</text>
<text x="719.0" y="515.0" font-size="13.6" font-family='"Liberation Serif", serif' font-weight="normal" font-style="normal" text-anchor="start" fill="#111" textLength="14.0" lengthAdjust="spacingAndGlyphs"  stroke="#111" stroke-width="0.5">in.</text>
<text x="678.3" y="529.0" font-size="13.6" font-family='"Liberation Serif", serif' font-weight="normal" font-style="normal" text-anchor="start" fill="#111" textLength="37.3" lengthAdjust="spacingAndGlyphs"  stroke="#111" stroke-width="0.5"><tspan font-weight="bold">6</tspan>—4·7</text>
<text x="721.2" y="529.0" font-size="13.6" font-family='"Liberation Serif", serif' font-weight="normal" font-style="normal" text-anchor="start" fill="#111" textLength="14.8" lengthAdjust="spacingAndGlyphs"  stroke="#111" stroke-width="0.5">in.</text>
<line x1="0.0" y1="313.0" x2="20.5" y2="313.0" stroke="#333" stroke-width="1.2" stroke-linecap="butt"/>
<line x1="0.0" y1="316.5" x2="18.0" y2="316.5" stroke="#2a2a2a" stroke-width="1.3" stroke-linecap="butt"/>
<line x1="1.0" y1="319.8" x2="17.0" y2="319.8" stroke="#2a2a2a" stroke-width="1.3" stroke-linecap="butt"/>
<line x1="2.0" y1="323.0" x2="17.0" y2="323.0" stroke="#2a2a2a" stroke-width="1.3" stroke-linecap="butt"/>
<line x1="3.0" y1="326.0" x2="18.0" y2="326.0" stroke="#2a2a2a" stroke-width="1.3" stroke-linecap="butt"/>
<line x1="3.0" y1="329.3" x2="19.0" y2="329.3" stroke="#2a2a2a" stroke-width="1.3" stroke-linecap="butt"/>
<line x1="4.0" y1="332.5" x2="21.0" y2="332.5" stroke="#2a2a2a" stroke-width="1.3" stroke-linecap="butt"/>
<line x1="5.0" y1="335.5" x2="25.0" y2="335.5" stroke="#2a2a2a" stroke-width="1.3" stroke-linecap="butt"/>
<line x1="6.0" y1="338.5" x2="31.0" y2="338.5" stroke="#2a2a2a" stroke-width="1.3" stroke-linecap="butt"/>
<line x1="6.5" y1="341.7" x2="43.0" y2="341.7" stroke="#2a2a2a" stroke-width="1.3" stroke-linecap="butt"/>
<line x1="7.0" y1="345.0" x2="62.0" y2="345.0" stroke="#2a2a2a" stroke-width="1.3" stroke-linecap="butt"/>
<line x1="743.6" y1="310.0" x2="768.0" y2="310.0" stroke="#222" stroke-width="1.2" stroke-linecap="butt"/>
<line x1="745.0" y1="313.5" x2="761.0" y2="313.5" stroke="#3a3a3a" stroke-width="1" stroke-linecap="butt" stroke-dasharray="10 1.5 6 1.5"/>
<line x1="742.0" y1="316.0" x2="758.0" y2="316.0" stroke="#3a3a3a" stroke-width="1" stroke-linecap="butt" stroke-dasharray="10 1.5 6 1.5"/>
<line x1="740.0" y1="318.3" x2="757.0" y2="318.3" stroke="#3a3a3a" stroke-width="1" stroke-linecap="butt" stroke-dasharray="10 1.5 6 1.5"/>
<line x1="738.0" y1="320.7" x2="756.0" y2="320.7" stroke="#3a3a3a" stroke-width="1" stroke-linecap="butt" stroke-dasharray="10 1.5 6 1.5"/>
<line x1="737.0" y1="323.6" x2="756.0" y2="323.6" stroke="#3a3a3a" stroke-width="1" stroke-linecap="butt" stroke-dasharray="10 1.5 6 1.5"/>
<line x1="738.0" y1="326.2" x2="755.0" y2="326.2" stroke="#3a3a3a" stroke-width="1" stroke-linecap="butt" stroke-dasharray="10 1.5 6 1.5"/>
<line x1="738.0" y1="330.0" x2="752.0" y2="330.0" stroke="#3a3a3a" stroke-width="1" stroke-linecap="butt" stroke-dasharray="10 1.5 6 1.5"/>
<line x1="741.0" y1="334.4" x2="751.0" y2="334.4" stroke="#3a3a3a" stroke-width="1" stroke-linecap="butt" stroke-dasharray="10 1.5 6 1.5"/>
<line x1="737.5" y1="338.2" x2="748.0" y2="338.2" stroke="#3a3a3a" stroke-width="1" stroke-linecap="butt" stroke-dasharray="10 1.5 6 1.5"/>
<line x1="737.0" y1="342.0" x2="751.0" y2="342.0" stroke="#3a3a3a" stroke-width="1" stroke-linecap="butt" stroke-dasharray="10 1.5 6 1.5"/>
<line x1="736.7" y1="345.7" x2="748.0" y2="345.7" stroke="#3a3a3a" stroke-width="1" stroke-linecap="butt" stroke-dasharray="10 1.5 6 1.5"/>
<path d="M21,281.5 L165,281.5 L165,292.4 L627,292.4 L627,291 L740.5,290.7 L743.6,299 L743.6,307.2 Q742,311.5 735.4,316.7 L731,318.4 L700,320 L700,337 L666.5,337.9 L631.7,342.5 L604,350 L150,350 L83,343.5 L51,341 L29,338 Q19,333 17.5,327 L17.3,320.6 Q18,316 20.2,313.4 Q22.6,306 22.6,300 L23.1,292.4 Z" fill="none" stroke="none" stroke-width="1" stroke-linejoin="round" />
<clipPath id="hc5"><path d="M23.1,292.4 L177,292.4 L177,319.9 L17.3,320.4 Q18,316 20.2,313.4 Q22.6,306 22.6,300 Z"/></clipPath><g clip-path="url(#hc5)">
<rect x="16.0" y="291.4" width="162.0" height="30.2" fill="#f2f2f2"/>
<path d="M17.00,292.4L-11.20,320.6M22.65,292.4L-5.55,320.6M28.30,292.4L0.10,320.6M33.95,292.4L5.75,320.6M39.60,292.4L11.40,320.6M45.25,292.4L17.05,320.6M50.90,292.4L22.70,320.6M56.55,292.4L28.35,320.6M62.20,292.4L34.00,320.6M67.85,292.4L39.65,320.6M73.50,292.4L45.30,320.6M79.15,292.4L50.95,320.6M84.80,292.4L56.60,320.6M90.45,292.4L62.25,320.6M96.10,292.4L67.90,320.6M101.75,292.4L73.55,320.6M107.40,292.4L79.20,320.6M113.05,292.4L84.85,320.6M118.70,292.4L90.50,320.6M124.35,292.4L96.15,320.6M130.00,292.4L101.80,320.6M135.65,292.4L107.45,320.6M141.30,292.4L113.10,320.6M146.95,292.4L118.75,320.6M152.60,292.4L124.40,320.6M158.25,292.4L130.05,320.6M163.90,292.4L135.70,320.6M169.55,292.4L141.35,320.6M175.20,292.4L147.00,320.6M180.85,292.4L152.65,320.6M186.50,292.4L158.30,320.6M192.15,292.4L163.95,320.6M197.80,292.4L169.60,320.6M203.45,292.4L175.25,320.6M209.10,292.4L180.90,320.6" stroke="#111" stroke-width="1.15" fill="none"/>
<path d="M-16.85,292.4L11.35,320.6M-11.20,292.4L17.00,320.6M-5.55,292.4L22.65,320.6M0.10,292.4L28.30,320.6M5.75,292.4L33.95,320.6M11.40,292.4L39.60,320.6M17.05,292.4L45.25,320.6M22.70,292.4L50.90,320.6M28.35,292.4L56.55,320.6M34.00,292.4L62.20,320.6M39.65,292.4L67.85,320.6M45.30,292.4L73.50,320.6M50.95,292.4L79.15,320.6M56.60,292.4L84.80,320.6M62.25,292.4L90.45,320.6M67.90,292.4L96.10,320.6M73.55,292.4L101.75,320.6M79.20,292.4L107.40,320.6M84.85,292.4L113.05,320.6M90.50,292.4L118.70,320.6M96.15,292.4L124.35,320.6M101.80,292.4L130.00,320.6M107.45,292.4L135.65,320.6M113.10,292.4L141.30,320.6M118.75,292.4L146.95,320.6M124.40,292.4L152.60,320.6M130.05,292.4L158.25,320.6M135.70,292.4L163.90,320.6M141.35,292.4L169.55,320.6M147.00,292.4L175.20,320.6M152.65,292.4L180.85,320.6M158.30,292.4L186.50,320.6M163.95,292.4L192.15,320.6M169.60,292.4L197.80,320.6M175.25,292.4L203.45,320.6M180.90,292.4L209.10,320.6" stroke="#111" stroke-width="1.15" fill="none"/>
</g>
<clipPath id="hc6"><path d="M177,292.4 H616.3 V302 H177 Z"/></clipPath><g clip-path="url(#hc6)">
<rect x="176.0" y="291.4" width="441.3" height="11.6" fill="#111"/>
<path d="M177.00,292.4L167.40,302.0M182.00,292.4L172.40,302.0M187.00,292.4L177.40,302.0M192.00,292.4L182.40,302.0M197.00,292.4L187.40,302.0M202.00,292.4L192.40,302.0M207.00,292.4L197.40,302.0M212.00,292.4L202.40,302.0M217.00,292.4L207.40,302.0M222.00,292.4L212.40,302.0M227.00,292.4L217.40,302.0M232.00,292.4L222.40,302.0M237.00,292.4L227.40,302.0M242.00,292.4L232.40,302.0M247.00,292.4L237.40,302.0M252.00,292.4L242.40,302.0M257.00,292.4L247.40,302.0M262.00,292.4L252.40,302.0M267.00,292.4L257.40,302.0M272.00,292.4L262.40,302.0M277.00,292.4L267.40,302.0M282.00,292.4L272.40,302.0M287.00,292.4L277.40,302.0M292.00,292.4L282.40,302.0M297.00,292.4L287.40,302.0M302.00,292.4L292.40,302.0M307.00,292.4L297.40,302.0M312.00,292.4L302.40,302.0M317.00,292.4L307.40,302.0M322.00,292.4L312.40,302.0M327.00,292.4L317.40,302.0M332.00,292.4L322.40,302.0M337.00,292.4L327.40,302.0M342.00,292.4L332.40,302.0M347.00,292.4L337.40,302.0M352.00,292.4L342.40,302.0M357.00,292.4L347.40,302.0M362.00,292.4L352.40,302.0M367.00,292.4L357.40,302.0M372.00,292.4L362.40,302.0M377.00,292.4L367.40,302.0M382.00,292.4L372.40,302.0M387.00,292.4L377.40,302.0M392.00,292.4L382.40,302.0M397.00,292.4L387.40,302.0M402.00,292.4L392.40,302.0M407.00,292.4L397.40,302.0M412.00,292.4L402.40,302.0M417.00,292.4L407.40,302.0M422.00,292.4L412.40,302.0M427.00,292.4L417.40,302.0M432.00,292.4L422.40,302.0M437.00,292.4L427.40,302.0M442.00,292.4L432.40,302.0M447.00,292.4L437.40,302.0M452.00,292.4L442.40,302.0M457.00,292.4L447.40,302.0M462.00,292.4L452.40,302.0M467.00,292.4L457.40,302.0M472.00,292.4L462.40,302.0M477.00,292.4L467.40,302.0M482.00,292.4L472.40,302.0M487.00,292.4L477.40,302.0M492.00,292.4L482.40,302.0M497.00,292.4L487.40,302.0M502.00,292.4L492.40,302.0M507.00,292.4L497.40,302.0M512.00,292.4L502.40,302.0M517.00,292.4L507.40,302.0M522.00,292.4L512.40,302.0M527.00,292.4L517.40,302.0M532.00,292.4L522.40,302.0M537.00,292.4L527.40,302.0M542.00,292.4L532.40,302.0M547.00,292.4L537.40,302.0M552.00,292.4L542.40,302.0M557.00,292.4L547.40,302.0M562.00,292.4L552.40,302.0M567.00,292.4L557.40,302.0M572.00,292.4L562.40,302.0M577.00,292.4L567.40,302.0M582.00,292.4L572.40,302.0M587.00,292.4L577.40,302.0M592.00,292.4L582.40,302.0M597.00,292.4L587.40,302.0M602.00,292.4L592.40,302.0M607.00,292.4L597.40,302.0M612.00,292.4L602.40,302.0M617.00,292.4L607.40,302.0M622.00,292.4L612.40,302.0M627.00,292.4L617.40,302.0" stroke="#eee" stroke-width="1.15" fill="none"/>
<path d="M162.40,292.4L172.00,302.0M167.40,292.4L177.00,302.0M172.40,292.4L182.00,302.0M177.40,292.4L187.00,302.0M182.40,292.4L192.00,302.0M187.40,292.4L197.00,302.0M192.40,292.4L202.00,302.0M197.40,292.4L207.00,302.0M202.40,292.4L212.00,302.0M207.40,292.4L217.00,302.0M212.40,292.4L222.00,302.0M217.40,292.4L227.00,302.0M222.40,292.4L232.00,302.0M227.40,292.4L237.00,302.0M232.40,292.4L242.00,302.0M237.40,292.4L247.00,302.0M242.40,292.4L252.00,302.0M247.40,292.4L257.00,302.0M252.40,292.4L262.00,302.0M257.40,292.4L267.00,302.0M262.40,292.4L272.00,302.0M267.40,292.4L277.00,302.0M272.40,292.4L282.00,302.0M277.40,292.4L287.00,302.0M282.40,292.4L292.00,302.0M287.40,292.4L297.00,302.0M292.40,292.4L302.00,302.0M297.40,292.4L307.00,302.0M302.40,292.4L312.00,302.0M307.40,292.4L317.00,302.0M312.40,292.4L322.00,302.0M317.40,292.4L327.00,302.0M322.40,292.4L332.00,302.0M327.40,292.4L337.00,302.0M332.40,292.4L342.00,302.0M337.40,292.4L347.00,302.0M342.40,292.4L352.00,302.0M347.40,292.4L357.00,302.0M352.40,292.4L362.00,302.0M357.40,292.4L367.00,302.0M362.40,292.4L372.00,302.0M367.40,292.4L377.00,302.0M372.40,292.4L382.00,302.0M377.40,292.4L387.00,302.0M382.40,292.4L392.00,302.0M387.40,292.4L397.00,302.0M392.40,292.4L402.00,302.0M397.40,292.4L407.00,302.0M402.40,292.4L412.00,302.0M407.40,292.4L417.00,302.0M412.40,292.4L422.00,302.0M417.40,292.4L427.00,302.0M422.40,292.4L432.00,302.0M427.40,292.4L437.00,302.0M432.40,292.4L442.00,302.0M437.40,292.4L447.00,302.0M442.40,292.4L452.00,302.0M447.40,292.4L457.00,302.0M452.40,292.4L462.00,302.0M457.40,292.4L467.00,302.0M462.40,292.4L472.00,302.0M467.40,292.4L477.00,302.0M472.40,292.4L482.00,302.0M477.40,292.4L487.00,302.0M482.40,292.4L492.00,302.0M487.40,292.4L497.00,302.0M492.40,292.4L502.00,302.0M497.40,292.4L507.00,302.0M502.40,292.4L512.00,302.0M507.40,292.4L517.00,302.0M512.40,292.4L522.00,302.0M517.40,292.4L527.00,302.0M522.40,292.4L532.00,302.0M527.40,292.4L537.00,302.0M532.40,292.4L542.00,302.0M537.40,292.4L547.00,302.0M542.40,292.4L552.00,302.0M547.40,292.4L557.00,302.0M552.40,292.4L562.00,302.0M557.40,292.4L567.00,302.0M562.40,292.4L572.00,302.0M567.40,292.4L577.00,302.0M572.40,292.4L582.00,302.0M577.40,292.4L587.00,302.0M582.40,292.4L592.00,302.0M587.40,292.4L597.00,302.0M592.40,292.4L602.00,302.0M597.40,292.4L607.00,302.0M602.40,292.4L612.00,302.0M607.40,292.4L617.00,302.0M612.40,292.4L622.00,302.0M617.40,292.4L627.00,302.0" stroke="#eee" stroke-width="1.15" fill="none"/>
</g>
<clipPath id="hc7"><path d="M266,281.8 H525.5 V292.6 H266 Z"/></clipPath><g clip-path="url(#hc7)">
<rect x="265.0" y="280.8" width="261.5" height="12.8" fill="#f0f0f0"/>
<path d="M268.00,281.8L257.20,292.6M273.65,281.8L262.85,292.6M279.30,281.8L268.50,292.6M284.95,281.8L274.15,292.6M290.60,281.8L279.80,292.6M296.25,281.8L285.45,292.6M301.90,281.8L291.10,292.6M307.55,281.8L296.75,292.6M313.20,281.8L302.40,292.6M318.85,281.8L308.05,292.6M324.50,281.8L313.70,292.6M330.15,281.8L319.35,292.6M335.80,281.8L325.00,292.6M341.45,281.8L330.65,292.6M347.10,281.8L336.30,292.6M352.75,281.8L341.95,292.6M358.40,281.8L347.60,292.6M364.05,281.8L353.25,292.6M369.70,281.8L358.90,292.6M375.35,281.8L364.55,292.6M381.00,281.8L370.20,292.6M386.65,281.8L375.85,292.6M392.30,281.8L381.50,292.6M397.95,281.8L387.15,292.6M403.60,281.8L392.80,292.6M409.25,281.8L398.45,292.6M414.90,281.8L404.10,292.6M420.55,281.8L409.75,292.6M426.20,281.8L415.40,292.6M431.85,281.8L421.05,292.6M437.50,281.8L426.70,292.6M443.15,281.8L432.35,292.6M448.80,281.8L438.00,292.6M454.45,281.8L443.65,292.6M460.10,281.8L449.30,292.6M465.75,281.8L454.95,292.6M471.40,281.8L460.60,292.6M477.05,281.8L466.25,292.6M482.70,281.8L471.90,292.6M488.35,281.8L477.55,292.6M494.00,281.8L483.20,292.6M499.65,281.8L488.85,292.6M505.30,281.8L494.50,292.6M510.95,281.8L500.15,292.6M516.60,281.8L505.80,292.6M522.25,281.8L511.45,292.6M527.90,281.8L517.10,292.6M533.55,281.8L522.75,292.6M539.20,281.8L528.40,292.6" stroke="#262626" stroke-width="1.1" fill="none"/>
<path d="M251.55,281.8L262.35,292.6M257.20,281.8L268.00,292.6M262.85,281.8L273.65,292.6M268.50,281.8L279.30,292.6M274.15,281.8L284.95,292.6M279.80,281.8L290.60,292.6M285.45,281.8L296.25,292.6M291.10,281.8L301.90,292.6M296.75,281.8L307.55,292.6M302.40,281.8L313.20,292.6M308.05,281.8L318.85,292.6M313.70,281.8L324.50,292.6M319.35,281.8L330.15,292.6M325.00,281.8L335.80,292.6M330.65,281.8L341.45,292.6M336.30,281.8L347.10,292.6M341.95,281.8L352.75,292.6M347.60,281.8L358.40,292.6M353.25,281.8L364.05,292.6M358.90,281.8L369.70,292.6M364.55,281.8L375.35,292.6M370.20,281.8L381.00,292.6M375.85,281.8L386.65,292.6M381.50,281.8L392.30,292.6M387.15,281.8L397.95,292.6M392.80,281.8L403.60,292.6M398.45,281.8L409.25,292.6M404.10,281.8L414.90,292.6M409.75,281.8L420.55,292.6M415.40,281.8L426.20,292.6M421.05,281.8L431.85,292.6M426.70,281.8L437.50,292.6M432.35,281.8L443.15,292.6M438.00,281.8L448.80,292.6M443.65,281.8L454.45,292.6M449.30,281.8L460.10,292.6M454.95,281.8L465.75,292.6M460.60,281.8L471.40,292.6M466.25,281.8L477.05,292.6M471.90,281.8L482.70,292.6M477.55,281.8L488.35,292.6M483.20,281.8L494.00,292.6M488.85,281.8L499.65,292.6M494.50,281.8L505.30,292.6M500.15,281.8L510.95,292.6M505.80,281.8L516.60,292.6M511.45,281.8L522.25,292.6M517.10,281.8L527.90,292.6M522.75,281.8L533.55,292.6M528.40,281.8L539.20,292.6" stroke="#262626" stroke-width="1.1" fill="none"/>
</g>
<clipPath id="hc8"><path d="M525.5,290.5 H616.3 V293 H525.5 Z"/></clipPath><g clip-path="url(#hc8)">
<rect x="524.5" y="289.5" width="92.8" height="4.5" fill="#111"/>
<path d="M525.50,290.5L523.00,293.0M530.50,290.5L528.00,293.0M535.50,290.5L533.00,293.0M540.50,290.5L538.00,293.0M545.50,290.5L543.00,293.0M550.50,290.5L548.00,293.0M555.50,290.5L553.00,293.0M560.50,290.5L558.00,293.0M565.50,290.5L563.00,293.0M570.50,290.5L568.00,293.0M575.50,290.5L573.00,293.0M580.50,290.5L578.00,293.0M585.50,290.5L583.00,293.0M590.50,290.5L588.00,293.0M595.50,290.5L593.00,293.0M600.50,290.5L598.00,293.0M605.50,290.5L603.00,293.0M610.50,290.5L608.00,293.0M615.50,290.5L613.00,293.0M620.50,290.5L618.00,293.0" stroke="#eee" stroke-width="1.15" fill="none"/>
<path d="M518.00,290.5L520.50,293.0M523.00,290.5L525.50,293.0M528.00,290.5L530.50,293.0M533.00,290.5L535.50,293.0M538.00,290.5L540.50,293.0M543.00,290.5L545.50,293.0M548.00,290.5L550.50,293.0M553.00,290.5L555.50,293.0M558.00,290.5L560.50,293.0M563.00,290.5L565.50,293.0M568.00,290.5L570.50,293.0M573.00,290.5L575.50,293.0M578.00,290.5L580.50,293.0M583.00,290.5L585.50,293.0M588.00,290.5L590.50,293.0M593.00,290.5L595.50,293.0M598.00,290.5L600.50,293.0M603.00,290.5L605.50,293.0M608.00,290.5L610.50,293.0M613.00,290.5L615.50,293.0M618.00,290.5L620.50,293.0" stroke="#eee" stroke-width="1.15" fill="none"/>
</g>
<path d="M177.0,302.0 L247.6,302.0 L247.6,319.7 L177.0,319.9 Z" fill="url(#diag)" stroke="none" stroke-width="1" stroke-linejoin="round" />
<rect x="247.6" y="302.0" width="296.4" height="7.2" fill="url(#diag)" stroke="none" stroke-width="1" rx="0" />
<path d="M247.6,309.2 L544.0,309.2 L544.0,318.7 L247.6,319.7 Z" fill="url(#dot)" stroke="none" stroke-width="1" stroke-linejoin="round" />
<path d="M544.0,302.0 L616.3,302.0 L616.3,318.5 L544.0,318.7 Z" fill="url(#diag)" stroke="none" stroke-width="1" stroke-linejoin="round" />
<clipPath id="hc9"><path d="M616.3,301.2 L743.6,301.2 L743.6,307.2 Q742,311.5 735.4,316.7 L731,318.1 L616.3,318.5 Z"/></clipPath><g clip-path="url(#hc9)">
<rect x="615.3" y="300.2" width="129.7" height="19.8" fill="#f2f2f2"/>
<path d="M616.30,301.2L598.50,319.0M621.95,301.2L604.15,319.0M627.60,301.2L609.80,319.0M633.25,301.2L615.45,319.0M638.90,301.2L621.10,319.0M644.55,301.2L626.75,319.0M650.20,301.2L632.40,319.0M655.85,301.2L638.05,319.0M661.50,301.2L643.70,319.0M667.15,301.2L649.35,319.0M672.80,301.2L655.00,319.0M678.45,301.2L660.65,319.0M684.10,301.2L666.30,319.0M689.75,301.2L671.95,319.0M695.40,301.2L677.60,319.0M701.05,301.2L683.25,319.0M706.70,301.2L688.90,319.0M712.35,301.2L694.55,319.0M718.00,301.2L700.20,319.0M723.65,301.2L705.85,319.0M729.30,301.2L711.50,319.0M734.95,301.2L717.15,319.0M740.60,301.2L722.80,319.0M746.25,301.2L728.45,319.0M751.90,301.2L734.10,319.0M757.55,301.2L739.75,319.0M763.20,301.2L745.40,319.0" stroke="#111" stroke-width="1.15" fill="none"/>
<path d="M592.85,301.2L610.65,319.0M598.50,301.2L616.30,319.0M604.15,301.2L621.95,319.0M609.80,301.2L627.60,319.0M615.45,301.2L633.25,319.0M621.10,301.2L638.90,319.0M626.75,301.2L644.55,319.0M632.40,301.2L650.20,319.0M638.05,301.2L655.85,319.0M643.70,301.2L661.50,319.0M649.35,301.2L667.15,319.0M655.00,301.2L672.80,319.0M660.65,301.2L678.45,319.0M666.30,301.2L684.10,319.0M671.95,301.2L689.75,319.0M677.60,301.2L695.40,319.0M683.25,301.2L701.05,319.0M688.90,301.2L706.70,319.0M694.55,301.2L712.35,319.0M700.20,301.2L718.00,319.0M705.85,301.2L723.65,319.0M711.50,301.2L729.30,319.0M717.15,301.2L734.95,319.0M722.80,301.2L740.60,319.0M728.45,301.2L746.25,319.0M734.10,301.2L751.90,319.0M739.75,301.2L757.55,319.0M745.40,301.2L763.20,319.0" stroke="#111" stroke-width="1.15" fill="none"/>
</g>
<line x1="177.0" y1="302.0" x2="616.3" y2="302.0" stroke="#111" stroke-width="1" stroke-linecap="butt"/>
<line x1="247.6" y1="309.2" x2="544.0" y2="309.2" stroke="#111" stroke-width="0.8" stroke-linecap="butt"/>
<line x1="177.0" y1="292.4" x2="177.0" y2="320.0" stroke="#111" stroke-width="1" stroke-linecap="butt"/>
<line x1="247.6" y1="302.0" x2="247.6" y2="319.6" stroke="#111" stroke-width="1" stroke-linecap="butt"/>
<line x1="544.0" y1="302.0" x2="544.0" y2="318.8" stroke="#111" stroke-width="1" stroke-linecap="butt"/>
<line x1="616.3" y1="292.4" x2="616.3" y2="318.5" stroke="#111" stroke-width="1" stroke-linecap="butt"/>
<rect x="284.0" y="284.0" width="6.2" height="4.0" fill="#fafafa" stroke="#111" stroke-width="0.8" rx="0" />
<rect x="317.0" y="284.0" width="6.2" height="4.0" fill="#fafafa" stroke="#111" stroke-width="0.8" rx="0" />
<rect x="347.0" y="284.0" width="6.2" height="4.0" fill="#fafafa" stroke="#111" stroke-width="0.8" rx="0" />
<rect x="376.0" y="284.0" width="6.2" height="4.0" fill="#fafafa" stroke="#111" stroke-width="0.8" rx="0" />
<rect x="400.0" y="284.0" width="6.2" height="4.0" fill="#fafafa" stroke="#111" stroke-width="0.8" rx="0" />
<rect x="402.3" y="285.2" width="1.6" height="1.6" fill="#111" stroke="none" stroke-width="1" rx="0" />
<rect x="423.0" y="284.0" width="6.2" height="4.0" fill="#fafafa" stroke="#111" stroke-width="0.8" rx="0" />
<rect x="425.3" y="285.2" width="1.6" height="1.6" fill="#111" stroke="none" stroke-width="1" rx="0" />
<rect x="446.0" y="284.0" width="6.2" height="4.0" fill="#fafafa" stroke="#111" stroke-width="0.8" rx="0" />
<rect x="473.0" y="284.0" width="6.2" height="4.0" fill="#fafafa" stroke="#111" stroke-width="0.8" rx="0" />
<rect x="496.0" y="284.0" width="6.2" height="4.0" fill="#fafafa" stroke="#111" stroke-width="0.8" rx="0" />
<path d="M21,281.5 L23.1,292.4 L22.6,300 Q22.6,306 20.2,313.4 Q18,316 17.3,320.6 L17.5,327 Q19,333 29,338 L51,341 L83,343.5 L150,349.5 L150,350 L604,350 L631.7,342.5 L666.5,337.9 L681,337.9" fill="none" stroke="#111" stroke-width="1.2" stroke-linejoin="round" />
<line x1="21.0" y1="281.5" x2="165.0" y2="281.5" stroke="#111" stroke-width="1.2" stroke-linecap="butt"/>
<line x1="204.7" y1="281.5" x2="231.5" y2="281.5" stroke="#111" stroke-width="1.1" stroke-linecap="butt"/>
<line x1="23.0" y1="292.4" x2="177.0" y2="292.4" stroke="#111" stroke-width="1.1" stroke-linecap="butt"/>
<line x1="17.3" y1="320.4" x2="731.0" y2="318.1" stroke="#111" stroke-width="1.2" stroke-linecap="butt"/>
<path d="M627,291 L740.5,290.7 L743.6,299 L743.6,307.2 Q742,311.5 735.4,316.7 L731,318.5" fill="none" stroke="#111" stroke-width="1.2" stroke-linejoin="round" />
<line x1="616.0" y1="301.2" x2="743.6" y2="301.2" stroke="#111" stroke-width="1" stroke-linecap="butt"/>
<ellipse cx="53.6" cy="288.6" rx="3.4" ry="2.4" fill="none" stroke="#111" stroke-width="1.1" transform="rotate(-30 53.6 288.6)"/>
<path d="M83,281.5 L92,287.3 L98,292.4" fill="none" stroke="#111" stroke-width="1" stroke-linejoin="round" />
<line x1="51.3" y1="320.6" x2="51.3" y2="341.0" stroke="#222" stroke-width="1" stroke-linecap="butt" stroke-dasharray="5 1.6"/>
<line x1="82.7" y1="320.5" x2="82.7" y2="343.5" stroke="#222" stroke-width="1" stroke-linecap="butt" stroke-dasharray="5 1.6"/>
<line x1="113.5" y1="320.4" x2="113.5" y2="346.2" stroke="#222" stroke-width="1" stroke-linecap="butt" stroke-dasharray="5 1.6"/>
<line x1="145.0" y1="320.3" x2="145.0" y2="349.1" stroke="#222" stroke-width="1" stroke-linecap="butt" stroke-dasharray="5 1.6"/>
<line x1="177.0" y1="320.2" x2="177.0" y2="349.5" stroke="#222" stroke-width="1" stroke-linecap="butt" stroke-dasharray="5 1.6"/>
<line x1="208.6" y1="320.1" x2="208.6" y2="349.6" stroke="#222" stroke-width="1" stroke-linecap="butt" stroke-dasharray="5 1.6"/>
<line x1="240.6" y1="320.0" x2="240.6" y2="349.6" stroke="#222" stroke-width="1" stroke-linecap="butt" stroke-dasharray="5 1.6"/>
<line x1="272.0" y1="319.9" x2="272.0" y2="349.6" stroke="#222" stroke-width="1" stroke-linecap="butt" stroke-dasharray="5 1.6"/>
<line x1="304.0" y1="319.8" x2="304.0" y2="349.7" stroke="#222" stroke-width="1" stroke-linecap="butt" stroke-dasharray="5 1.6"/>
<line x1="334.6" y1="319.7" x2="334.6" y2="349.7" stroke="#222" stroke-width="1" stroke-linecap="butt" stroke-dasharray="5 1.6"/>
<line x1="367.0" y1="319.6" x2="367.0" y2="349.7" stroke="#222" stroke-width="1" stroke-linecap="butt" stroke-dasharray="5 1.6"/>
<line x1="398.4" y1="319.5" x2="398.4" y2="349.8" stroke="#222" stroke-width="1" stroke-linecap="butt" stroke-dasharray="5 1.6"/>
<line x1="429.7" y1="319.4" x2="429.7" y2="349.8" stroke="#222" stroke-width="1" stroke-linecap="butt" stroke-dasharray="5 1.6"/>
<line x1="461.5" y1="319.3" x2="461.5" y2="349.8" stroke="#222" stroke-width="1" stroke-linecap="butt" stroke-dasharray="5 1.6"/>
<line x1="493.0" y1="319.2" x2="493.0" y2="349.9" stroke="#222" stroke-width="1" stroke-linecap="butt" stroke-dasharray="5 1.6"/>
<line x1="525.5" y1="319.1" x2="525.5" y2="349.9" stroke="#222" stroke-width="1" stroke-linecap="butt" stroke-dasharray="5 1.6"/>
<line x1="556.8" y1="319.0" x2="556.8" y2="349.9" stroke="#222" stroke-width="1" stroke-linecap="butt" stroke-dasharray="5 1.6"/>
<line x1="588.5" y1="318.9" x2="588.5" y2="350.0" stroke="#222" stroke-width="1" stroke-linecap="butt" stroke-dasharray="5 1.6"/>
<line x1="620.6" y1="318.8" x2="620.6" y2="345.5" stroke="#222" stroke-width="1" stroke-linecap="butt" stroke-dasharray="5 1.6"/>
<line x1="651.4" y1="318.7" x2="651.4" y2="339.9" stroke="#222" stroke-width="1" stroke-linecap="butt" stroke-dasharray="5 1.6"/>
<line x1="684.5" y1="318.6" x2="684.5" y2="337.7" stroke="#222" stroke-width="1" stroke-linecap="butt" stroke-dasharray="5 1.6"/>
<text x="36.0" y="337.3" font-size="12" font-family='"Liberation Sans", sans-serif' font-weight="normal" font-style="normal" text-anchor="middle" fill="#222"  stroke="#222" stroke-width="0.4">1</text>
<text x="65.5" y="335.8" font-size="12" font-family='"Liberation Sans", sans-serif' font-weight="normal" font-style="normal" text-anchor="middle" fill="#222"  stroke="#222" stroke-width="0.4">2</text>
<text x="98.5" y="338.3" font-size="12" font-family='"Liberation Sans", sans-serif' font-weight="normal" font-style="italic" text-anchor="middle" fill="#222"  stroke="#222" stroke-width="0.4">3</text>
<text x="129.5" y="341.0" font-size="12" font-family='"Liberation Sans", sans-serif' font-weight="normal" font-style="italic" text-anchor="middle" fill="#222"  stroke="#222" stroke-width="0.4">4</text>
<text x="161.5" y="341.0" font-size="12" font-family='"Liberation Sans", sans-serif' font-weight="normal" font-style="italic" text-anchor="middle" fill="#222"  stroke="#222" stroke-width="0.4">5</text>
<text x="192.5" y="341.0" font-size="12" font-family='"Liberation Sans", sans-serif' font-weight="normal" font-style="italic" text-anchor="middle" fill="#222"  stroke="#222" stroke-width="0.4">6</text>
<text x="225.0" y="341.0" font-size="12" font-family='"Liberation Sans", sans-serif' font-weight="normal" font-style="italic" text-anchor="middle" fill="#222"  stroke="#222" stroke-width="0.4">7</text>
<text x="255.5" y="340.6" font-size="12" font-family='"Liberation Sans", sans-serif' font-weight="normal" font-style="italic" text-anchor="middle" fill="#222"  stroke="#222" stroke-width="0.4">8</text>
<text x="287.5" y="340.4" font-size="12" font-family='"Liberation Sans", sans-serif' font-weight="normal" font-style="italic" text-anchor="middle" fill="#222"  stroke="#222" stroke-width="0.4">9</text>
<text x="316.0" y="340.4" font-size="11" font-family='"Liberation Sans", sans-serif' font-weight="normal" font-style="normal" text-anchor="start" fill="#222" textLength="9.2" lengthAdjust="spacingAndGlyphs"  stroke="#222" stroke-width="0.45">10</text>
<text x="340.0" y="340.4" font-size="11" font-family='"Liberation Sans", sans-serif' font-weight="normal" font-style="normal" text-anchor="start" fill="#222" textLength="6.0" lengthAdjust="spacingAndGlyphs"  stroke="#222" stroke-width="0.45">11</text>
<text x="383.9" y="340.4" font-size="11" font-family='"Liberation Sans", sans-serif' font-weight="normal" font-style="normal" text-anchor="start" fill="#222" textLength="9.2" lengthAdjust="spacingAndGlyphs"  stroke="#222" stroke-width="0.45">12</text>
<text x="408.9" y="340.4" font-size="11" font-family='"Liberation Sans", sans-serif' font-weight="normal" font-style="normal" text-anchor="start" fill="#222" textLength="9.2" lengthAdjust="spacingAndGlyphs"  stroke="#222" stroke-width="0.45">13</text>
<text x="441.9" y="340.4" font-size="11" font-family='"Liberation Sans", sans-serif' font-weight="normal" font-style="normal" text-anchor="start" fill="#222" textLength="9.2" lengthAdjust="spacingAndGlyphs"  stroke="#222" stroke-width="0.45">14</text>
<text x="473.4" y="340.4" font-size="11" font-family='"Liberation Sans", sans-serif' font-weight="normal" font-style="normal" text-anchor="start" fill="#222" textLength="9.2" lengthAdjust="spacingAndGlyphs"  stroke="#222" stroke-width="0.45">15</text>
<text x="504.9" y="340.4" font-size="11" font-family='"Liberation Sans", sans-serif' font-weight="normal" font-style="normal" text-anchor="start" fill="#222" textLength="9.2" lengthAdjust="spacingAndGlyphs"  stroke="#222" stroke-width="0.45">16</text>
<text x="536.6" y="340.4" font-size="11" font-family='"Liberation Sans", sans-serif' font-weight="normal" font-style="normal" text-anchor="start" fill="#222" textLength="9.2" lengthAdjust="spacingAndGlyphs"  stroke="#222" stroke-width="0.45">17</text>
<text x="567.9" y="340.4" font-size="11" font-family='"Liberation Sans", sans-serif' font-weight="normal" font-style="normal" text-anchor="start" fill="#222" textLength="9.2" lengthAdjust="spacingAndGlyphs"  stroke="#222" stroke-width="0.45">18</text>
<text x="599.2" y="340.4" font-size="11" font-family='"Liberation Sans", sans-serif' font-weight="normal" font-style="normal" text-anchor="start" fill="#222" textLength="9.2" lengthAdjust="spacingAndGlyphs"  stroke="#222" stroke-width="0.45">19</text>
<text x="628.0" y="333.8" font-size="11" font-family='"Liberation Sans", sans-serif' font-weight="normal" font-style="normal" text-anchor="start" fill="#222" textLength="10.4" lengthAdjust="spacingAndGlyphs"  stroke="#222" stroke-width="0.45">20</text>
<text x="354.2" y="335.5" font-size="8.4" font-family='"Liberation Sans", sans-serif' font-weight="normal" font-style="normal" text-anchor="start" fill="#222" textLength="4.0" lengthAdjust="spacingAndGlyphs"  stroke="#222" stroke-width="0.4">T</text>
<text x="359.0" y="335.5" font-size="8.4" font-family='"Liberation Sans", sans-serif' font-weight="normal" font-style="normal" text-anchor="start" fill="#222" textLength="4.0" lengthAdjust="spacingAndGlyphs"  stroke="#222" stroke-width="0.4">T</text>
<text x="356.8" y="344.9" font-size="9" font-family='"Liberation Sans", sans-serif' font-weight="normal" font-style="normal" text-anchor="start" fill="#222" textLength="5.2" lengthAdjust="spacingAndGlyphs"  stroke="#222" stroke-width="0.4">P</text>
<text x="369.4" y="335.5" font-size="8.4" font-family='"Liberation Sans", sans-serif' font-weight="normal" font-style="normal" text-anchor="start" fill="#222" textLength="4.0" lengthAdjust="spacingAndGlyphs"  stroke="#222" stroke-width="0.4">T</text>
<text x="374.6" y="335.5" font-size="8.4" font-family='"Liberation Sans", sans-serif' font-weight="normal" font-style="normal" text-anchor="start" fill="#222" textLength="4.0" lengthAdjust="spacingAndGlyphs"  stroke="#222" stroke-width="0.4">T</text>
<text x="371.6" y="344.9" font-size="9" font-family='"Liberation Sans", sans-serif' font-weight="normal" font-style="normal" text-anchor="start" fill="#222" textLength="5.2" lengthAdjust="spacingAndGlyphs"  stroke="#222" stroke-width="0.4">S</text>
<circle cx="359.0" cy="325.2" r="1.7" fill="#111" stroke="none" stroke-width="1"/>
<circle cx="375.0" cy="325.2" r="1.4" fill="none" stroke="#555" stroke-width="0.6"/>
<line x1="644.5" y1="332.0" x2="672.0" y2="332.0" stroke="#333" stroke-width="0.9" stroke-linecap="butt"/>
<line x1="644.0" y1="336.2" x2="706.0" y2="336.2" stroke="#333" stroke-width="0.9" stroke-linecap="butt"/>
<line x1="636.0" y1="334.0" x2="650.0" y2="334.0" stroke="#444" stroke-width="0.7" stroke-linecap="butt"/>
<ellipse cx="667.6" cy="334.3" rx="1.7" ry="7.0" fill="#fafafa" stroke="#111" stroke-width="0.9" />
<line x1="662.6" y1="330.0" x2="666.1" y2="330.0" stroke="#111" stroke-width="0.8" stroke-linecap="butt"/>
<ellipse cx="701.7" cy="334.3" rx="1.7" ry="7.0" fill="#fafafa" stroke="#111" stroke-width="0.9" />
<line x1="696.7" y1="330.0" x2="700.2" y2="330.0" stroke="#111" stroke-width="0.8" stroke-linecap="butt"/>
<line x1="680.0" y1="333.0" x2="700.0" y2="333.0" stroke="#333" stroke-width="0.8" stroke-linecap="butt" stroke-dasharray="5 3"/>
<rect x="680.0" y="337.9" width="18.5" height="7.6" fill="#fafafa" stroke="#111" stroke-width="1.2" rx="3" />
<path d="M718.6,321.2 L732,321.2 Q734.8,321.2 734.8,324 L734.8,342.5 Q734.8,345.5 731.8,345.5 L714,345.5 Q711,345.5 711,342.5 L711,339.5 Q711,336.7 714,336.7 L724.4,336.7 L724.4,332 L718.6,332 Z" fill="#fafafa" stroke="#111" stroke-width="1.2" stroke-linejoin="round" />
<line x1="700.0" y1="336.2" x2="711.0" y2="336.2" stroke="#111" stroke-width="0.9" stroke-linecap="butt"/>
<line x1="122.0" y1="271.3" x2="172.0" y2="271.3" stroke="#111" stroke-width="3.2" stroke-linecap="butt"/>
<rect x="164.3" y="277.0" width="40.4" height="15.4" fill="url(#dot)" stroke="none" stroke-width="1" rx="0" />
<path d="M172.0,276.6 L176.0,263.7 L210.4,263.7 L212.5,269.0 L212.5,276.6 Z" fill="url(#diag)" stroke="#111" stroke-width="1" stroke-linejoin="round" />
<rect x="168.0" y="259.3" width="16.0" height="1.9" fill="#111" stroke="none" stroke-width="1" rx="0" />
<rect x="174.0" y="261.0" width="6.0" height="2.7" fill="#111" stroke="none" stroke-width="1" rx="0" />
<line x1="191.7" y1="256.9" x2="221.0" y2="256.9" stroke="#111" stroke-width="3.2" stroke-linecap="butt"/>
<line x1="221.0" y1="256.9" x2="241.0" y2="256.9" stroke="#333" stroke-width="2.2" stroke-linecap="butt"/>
<rect x="231.5" y="262.3" width="37.5" height="28.2" fill="url(#dot)" stroke="none" stroke-width="1" rx="0" />
<path d="M240.0,261.8 L242.4,250.6 L274.5,250.6 L276.3,256.0 L276.3,261.8 Z" fill="url(#diag)" stroke="#111" stroke-width="1" stroke-linejoin="round" />
<rect x="238.5" y="245.5" width="11.5" height="1.8" fill="#111" stroke="none" stroke-width="1" rx="0" />
<rect x="243.0" y="247.0" width="5.0" height="3.6" fill="#111" stroke="none" stroke-width="1" rx="0" />
<line x1="269.0" y1="271.0" x2="277.7" y2="271.0" stroke="#111" stroke-width="0.8" stroke-linecap="butt"/>
<line x1="277.7" y1="262.0" x2="277.7" y2="281.5" stroke="#111" stroke-width="0.9" stroke-linecap="butt"/>
<line x1="346.0" y1="269.4" x2="394.0" y2="269.4" stroke="#111" stroke-width="2.9" stroke-linecap="butt"/>
<rect x="385.0" y="276.4" width="41.5" height="4.6" fill="url(#dot)" stroke="none" stroke-width="1" rx="0" />
<path d="M393.3,275.4 L395.0,264.2 L433.4,264.2 L433.4,275.4 Z" fill="url(#diag)" stroke="#111" stroke-width="1" stroke-linejoin="round" />
<rect x="389.7" y="258.7" width="16.3" height="1.8" fill="#111" stroke="none" stroke-width="1" rx="0" />
<rect x="398.0" y="260.3" width="4.5" height="3.9" fill="#111" stroke="none" stroke-width="1" rx="0" />
<rect x="389.5" y="266.0" width="4.5" height="9.4" fill="#111" stroke="none" stroke-width="1" rx="0" />
<line x1="556.0" y1="268.0" x2="599.0" y2="268.0" stroke="#111" stroke-width="2.9" stroke-linecap="butt"/>
<rect x="525.5" y="274.0" width="36.0" height="16.6" fill="url(#dot)" stroke="none" stroke-width="1" rx="0" />
<path d="M517.3,274.0 L517.3,262.6 L554.0,262.6 L557.0,268.0 L557.0,274.0 Z" fill="url(#diag)" stroke="#111" stroke-width="1" stroke-linejoin="round" />
<rect x="541.0" y="257.6" width="13.0" height="1.8" fill="#111" stroke="none" stroke-width="1" rx="0" />
<rect x="545.0" y="259.2" width="4.5" height="3.4" fill="#111" stroke="none" stroke-width="1" rx="0" />
<line x1="621.0" y1="281.3" x2="668.0" y2="281.3" stroke="#111" stroke-width="2.9" stroke-linecap="butt"/>
<rect x="616.3" y="287.0" width="11.0" height="14.5" fill="url(#dot)" stroke="none" stroke-width="1" rx="0" />
<path d="M579.7,286.4 L579.7,275.6 L617.0,275.6 L620.5,280.0 L620.5,286.4 Z" fill="url(#diag)" stroke="#111" stroke-width="1" stroke-linejoin="round" />
<rect x="604.5" y="270.6" width="15.5" height="1.8" fill="#111" stroke="none" stroke-width="1" rx="0" />
<rect x="609.0" y="272.2" width="4.5" height="3.4" fill="#111" stroke="none" stroke-width="1" rx="0" />
<line x1="561.5" y1="290.5" x2="616.0" y2="290.5" stroke="#111" stroke-width="1" stroke-linecap="butt"/>
<rect x="586.6" y="287.0" width="29.7" height="3.0" fill="url(#dot)" stroke="none" stroke-width="1" rx="0" />
<line x1="302.4" y1="47.0" x2="302.4" y2="98.0" stroke="#111" stroke-width="1.1" stroke-linecap="butt"/>
<line x1="302.3" y1="98.0" x2="302.3" y2="167.0" stroke="#111" stroke-width="1.9" stroke-linecap="butt"/>
<line x1="299.5" y1="98.5" x2="305.5" y2="98.5" stroke="#111" stroke-width="1" stroke-linecap="butt"/>
<rect x="292.0" y="166.6" width="17.0" height="2.0" fill="#111" stroke="none" stroke-width="1" rx="0" />
<rect x="293.0" y="168.6" width="15.6" height="3.8" fill="#555" stroke="#111" stroke-width="0.7" rx="0" />
<line x1="293.0" y1="170.5" x2="308.6" y2="170.5" stroke="#ddd" stroke-width="0.7" stroke-linecap="butt"/>
<rect x="293.4" y="172.4" width="15.1" height="4.5" fill="#fafafa" stroke="#111" stroke-width="0.9" rx="0" />
<line x1="288.0" y1="177.5" x2="313.2" y2="177.5" stroke="#111" stroke-width="0.9" stroke-linecap="butt"/>
<line x1="297.6" y1="177.5" x2="290.2" y2="281.3" stroke="#111" stroke-width="4.0" stroke-linecap="butt"/>
<line x1="297.6" y1="177.5" x2="290.2" y2="281.3" stroke="#f6f6f6" stroke-width="2.2" stroke-linecap="butt"/>
<line x1="303.4" y1="177.5" x2="313.0" y2="281.3" stroke="#111" stroke-width="4.0" stroke-linecap="butt"/>
<line x1="303.4" y1="177.5" x2="313.0" y2="281.3" stroke="#f6f6f6" stroke-width="2.2" stroke-linecap="butt"/>
<line x1="300.5" y1="177.5" x2="300.5" y2="219.0" stroke="#111" stroke-width="0.8" stroke-linecap="butt"/>
<line x1="294.5" y1="233.0" x2="312.6" y2="233.0" stroke="#333" stroke-width="1.4" stroke-linecap="butt"/>
<line x1="294.8" y1="247.8" x2="316.7" y2="247.8" stroke="#333" stroke-width="1.4" stroke-linecap="butt"/>
<line x1="293.5" y1="259.0" x2="316.0" y2="259.0" stroke="#333" stroke-width="1.4" stroke-linecap="butt"/>
<line x1="292.3" y1="270.5" x2="309.0" y2="270.5" stroke="#333" stroke-width="1.4" stroke-linecap="butt"/>
<rect x="288.3" y="219.4" width="55.2" height="4.0" fill="#f4f4f4" stroke="#111" stroke-width="1" rx="0" />
<rect x="315.0" y="220.3" width="26.0" height="2.2" fill="none" stroke="#333" stroke-width="0.5" rx="0" stroke-dasharray="3 2"/>
<rect x="311.0" y="205.5" width="23.5" height="13.9" fill="#fbfbfb" stroke="#111" stroke-width="1" rx="0" />
<line x1="311.0" y1="207.8" x2="334.5" y2="207.8" stroke="#111" stroke-width="1" stroke-linecap="butt"/>
<line x1="337.8" y1="201.0" x2="337.8" y2="281.3" stroke="#111" stroke-width="1.1" stroke-linecap="butt"/>
<line x1="341.2" y1="201.0" x2="341.2" y2="281.3" stroke="#111" stroke-width="1.1" stroke-linecap="butt"/>
<path d="M337.3,201.5 Q339.5,198 341.7,201.5" fill="none" stroke="#111" stroke-width="1" stroke-linejoin="round" />
<line x1="334.5" y1="223.4" x2="334.5" y2="281.3" stroke="#111" stroke-width="0.9" stroke-linecap="butt"/>
<rect x="289.0" y="214.3" width="9.0" height="5.1" fill="#fafafa" stroke="#111" stroke-width="0.9" rx="0" />
<rect x="289.5" y="213.2" width="8.0" height="1.8" fill="#444" stroke="none" stroke-width="1" rx="0" />
<rect x="299.5" y="226.0" width="4.0" height="5.0" fill="#111" stroke="none" stroke-width="1" rx="0" />
<line x1="313.4" y1="243.0" x2="334.5" y2="243.0" stroke="#444" stroke-width="2.4" stroke-linecap="butt"/>
<rect x="268.0" y="226.7" width="18.7" height="4.0" fill="#888" stroke="#111" stroke-width="0.8" rx="0" />
<line x1="275.0" y1="230.7" x2="275.0" y2="236.0" stroke="#111" stroke-width="1.6" stroke-linecap="butt"/>
<path d="M268,236 L290,236 L290,239 L268,239 Z" fill="#fafafa" stroke="#111" stroke-width="0.8" stroke-linejoin="round" />
<path d="M268,239 Q268,245 276,245.5 L281,245.5" fill="none" stroke="#111" stroke-width="0.9" stroke-linejoin="round" />
<line x1="277.5" y1="236.0" x2="277.5" y2="239.0" stroke="#111" stroke-width="2" stroke-linecap="butt"/>
<rect x="279.4" y="235.6" width="9.6" height="6.0" fill="#111" stroke="none" stroke-width="1" rx="0" />
<rect x="280.9" y="237.4" width="1.2" height="1.2" fill="#f4f4f4" stroke="none" stroke-width="1" rx="0" />
<rect x="283.9" y="237.4" width="1.2" height="1.2" fill="#f4f4f4" stroke="none" stroke-width="1" rx="0" />
<rect x="286.7" y="237.4" width="1.2" height="1.2" fill="#f4f4f4" stroke="none" stroke-width="1" rx="0" />
<rect x="279.4" y="243.0" width="10.6" height="10.4" fill="#111" stroke="none" stroke-width="1" rx="0" />
<rect x="280.6" y="244.5" width="1.3" height="1.3" fill="#f4f4f4" stroke="none" stroke-width="1" rx="0" />
<rect x="284.0" y="244.5" width="1.3" height="1.3" fill="#f4f4f4" stroke="none" stroke-width="1" rx="0" />
<rect x="287.4" y="244.5" width="1.3" height="1.3" fill="#f4f4f4" stroke="none" stroke-width="1" rx="0" />
<rect x="282.4" y="247.5" width="1.3" height="1.3" fill="#f4f4f4" stroke="none" stroke-width="1" rx="0" />
<rect x="285.8" y="247.5" width="1.3" height="1.3" fill="#f4f4f4" stroke="none" stroke-width="1" rx="0" />
<rect x="280.6" y="250.5" width="1.3" height="1.3" fill="#f4f4f4" stroke="none" stroke-width="1" rx="0" />
<rect x="284.0" y="250.5" width="1.3" height="1.3" fill="#f4f4f4" stroke="none" stroke-width="1" rx="0" />
<rect x="287.4" y="250.5" width="1.3" height="1.3" fill="#f4f4f4" stroke="none" stroke-width="1" rx="0" />
<rect x="281.8" y="253.4" width="4.0" height="28.1" fill="url(#diag)" stroke="#111" stroke-width="0.6" rx="0" />
<line x1="289.0" y1="253.4" x2="289.0" y2="281.5" stroke="#111" stroke-width="0.8" stroke-linecap="butt"/>
<path d="M334.5,98 L323,98 L306.5,166" fill="none" stroke="#111" stroke-width="0.9" stroke-dasharray="7 2 1.5 2" stroke-linejoin="round" />
<path d="M331,135.6 L326.2,160 L312.6,216" fill="none" stroke="#111" stroke-width="0.9" stroke-dasharray="7 2 1.5 2" stroke-linejoin="round" />
<line x1="312.6" y1="216.0" x2="315.2" y2="212.0" stroke="#111" stroke-width="0.9" stroke-linecap="butt"/>
<line x1="312.6" y1="216.0" x2="311.8" y2="211.3" stroke="#111" stroke-width="0.9" stroke-linecap="butt"/>
<path d="M333.8,172.3 L313,243" fill="none" stroke="#111" stroke-width="0.9" stroke-dasharray="7 2 1.5 2" stroke-linejoin="round" />
<line x1="313.0" y1="243.0" x2="315.6" y2="239.0" stroke="#111" stroke-width="0.9" stroke-linecap="butt"/>
<line x1="313.0" y1="243.0" x2="312.2" y2="238.3" stroke="#111" stroke-width="0.9" stroke-linecap="butt"/>
<line x1="306.5" y1="166.0" x2="309.0" y2="162.0" stroke="#111" stroke-width="0.9" stroke-linecap="butt"/>
<line x1="306.5" y1="166.0" x2="305.5" y2="161.3" stroke="#111" stroke-width="0.9" stroke-linecap="butt"/>
<path d="M418,252 L345,252 Q342,252 342,255" fill="none" stroke="#444" stroke-width="1.8" stroke-linejoin="round" />
<line x1="387.9" y1="248.7" x2="455.3" y2="248.7" stroke="#444" stroke-width="1.8" stroke-linecap="butt"/>
<line x1="455.8" y1="46.8" x2="455.8" y2="99.0" stroke="#111" stroke-width="1" stroke-linecap="butt"/>
<line x1="456.0" y1="99.0" x2="456.0" y2="177.0" stroke="#111" stroke-width="1.7" stroke-linecap="butt"/>
<line x1="452.5" y1="99.3" x2="459.5" y2="99.3" stroke="#111" stroke-width="1" stroke-linecap="butt"/>
<line x1="448.0" y1="177.6" x2="467.0" y2="177.6" stroke="#111" stroke-width="1.6" stroke-linecap="butt"/>
<line x1="455.0" y1="178.0" x2="455.0" y2="281.3" stroke="#111" stroke-width="1" stroke-linecap="butt"/>
<line x1="458.6" y1="178.0" x2="458.6" y2="281.3" stroke="#111" stroke-width="1" stroke-linecap="butt"/>
<line x1="460.8" y1="179.0" x2="474.6" y2="281.3" stroke="#111" stroke-width="3.6" stroke-linecap="butt"/>
<line x1="460.8" y1="179.0" x2="474.6" y2="281.3" stroke="#f6f6f6" stroke-width="1.8000000000000003" stroke-linecap="butt"/>
<path d="M465.3,210.4 L484,210.4 L484,241.3" fill="none" stroke="#111" stroke-width="1.1" stroke-linejoin="round" />
<line x1="456.4" y1="229.0" x2="475.0" y2="229.0" stroke="#111" stroke-width="1.6" stroke-linecap="butt"/>
<rect x="458.8" y="241.0" width="27.6" height="2.2" fill="#fafafa" stroke="#111" stroke-width="0.9" rx="0" />
<rect x="464.5" y="221.8" width="4.9" height="5.7" fill="#111" stroke="none" stroke-width="1" rx="0" />
<line x1="469.4" y1="224.0" x2="487.0" y2="224.0" stroke="#bbb" stroke-width="2.2" stroke-linecap="butt"/>
<line x1="486.0" y1="243.2" x2="493.7" y2="281.3" stroke="#111" stroke-width="1" stroke-linecap="butt"/>
<line x1="467.0" y1="229.0" x2="470.5" y2="281.3" stroke="#111" stroke-width="0.8" stroke-linecap="butt"/>
<line x1="480.7" y1="264.5" x2="501.0" y2="264.5" stroke="#333" stroke-width="1.5" stroke-linecap="butt"/>
<clipPath id="hc10"><path d="M503,245.5 L506,245.5 L507.5,249.5 L511,249.5 L510.3,253.5 L514.3,256 L510.6,259 L513,262.5 L510,263 L510,281.3 L501,281.3 L501,263 L498.8,259 L501.5,254 L499.5,250.5 L503,249.5 Z"/></clipPath><g clip-path="url(#hc10)">
<rect x="497.0" y="244.0" width="19.0" height="38.5" fill="#111"/>
<path d="M498.00,245.0L461.50,281.5M503.00,245.0L466.50,281.5M508.00,245.0L471.50,281.5M513.00,245.0L476.50,281.5M518.00,245.0L481.50,281.5M523.00,245.0L486.50,281.5M528.00,245.0L491.50,281.5M533.00,245.0L496.50,281.5M538.00,245.0L501.50,281.5M543.00,245.0L506.50,281.5M548.00,245.0L511.50,281.5M553.00,245.0L516.50,281.5" stroke="#eee" stroke-width="1.1" fill="none"/>
<path d="M456.50,245.0L493.00,281.5M461.50,245.0L498.00,281.5M466.50,245.0L503.00,281.5M471.50,245.0L508.00,281.5M476.50,245.0L513.00,281.5M481.50,245.0L518.00,281.5M486.50,245.0L523.00,281.5M491.50,245.0L528.00,281.5M496.50,245.0L533.00,281.5M501.50,245.0L538.00,281.5M506.50,245.0L543.00,281.5M511.50,245.0L548.00,281.5M516.50,245.0L553.00,281.5" stroke="#eee" stroke-width="1.1" fill="none"/>
</g>
<path d="M503.0,245.5 L506.0,245.5 L507.5,249.5 L511.0,249.5 L510.3,253.5 L514.3,256.0 L510.6,259.0 L513.0,262.5 L510.0,263.0 L510.0,281.3 L501.0,281.3 L501.0,263.0 L498.8,259.0 L501.5,254.0 L499.5,250.5 L503.0,249.5 Z" fill="none" stroke="#111" stroke-width="0.7" stroke-linejoin="round" />
<line x1="512.0" y1="262.0" x2="512.0" y2="281.3" stroke="#111" stroke-width="0.8" stroke-linecap="butt"/>
<rect x="334.9" y="92.0" width="15.9" height="12.8" fill="#fbfbfb" stroke="#111" stroke-width="1" rx="0" />
<line x1="337.5" y1="92.0" x2="337.5" y2="104.8" stroke="#111" stroke-width="0.8" stroke-linecap="butt"/>
<line x1="348.4" y1="92.0" x2="348.4" y2="104.8" stroke="#111" stroke-width="0.8" stroke-linecap="butt"/>
<line x1="342.4" y1="86.0" x2="342.4" y2="92.0" stroke="#111" stroke-width="0.9" stroke-linecap="butt"/>
<line x1="342.4" y1="104.8" x2="342.4" y2="110.8" stroke="#111" stroke-width="0.9" stroke-linecap="butt"/>
<line x1="350.8" y1="98.5" x2="356.7" y2="98.5" stroke="#111" stroke-width="0.9" stroke-linecap="butt"/>
<path d="M338,118.6 Q342,118.4 345.8,119.1 Q349,119.3 351.7,120.7 Q355.5,122 359.7,121.6 Q366,121.8 371.6,124.6 Q377,127.5 380.5,130.2 L386.5,135.6 L380.5,141 Q377,143.7 371.6,146.6 Q366,149.4 359.7,149.6 Q355.5,149.2 351.7,150.5 Q349,151.9 345.8,152.1 Q342,152.8 338,152.6" fill="#fbfbfb" stroke="#111" stroke-width="1.1" stroke-linejoin="round" />
<circle cx="337.9" cy="123.7" r="5.1" fill="#fbfbfb" stroke="#111" stroke-width="1.1"/>
<circle cx="337.9" cy="147.5" r="5.1" fill="#fbfbfb" stroke="#111" stroke-width="1.1"/>
<circle cx="337.9" cy="123.7" r="3.0" fill="none" stroke="#111" stroke-width="0.8"/>
<circle cx="337.9" cy="147.5" r="3.0" fill="none" stroke="#111" stroke-width="0.8"/>
<path d="M336,128.4 Q340,131 340,135.6 Q340,140.2 336,142.8" fill="none" stroke="#111" stroke-width="1" stroke-linejoin="round" />
<ellipse cx="366.6" cy="135.6" rx="11.4" ry="7.4" fill="none" stroke="#111" stroke-width="1.1" />
<circle cx="382.3" cy="135.6" r="1.8" fill="none" stroke="#111" stroke-width="0.8"/>
<line x1="348.6" y1="132.6" x2="353.7" y2="125.0" stroke="#111" stroke-width="3.0" stroke-linecap="round"/>
<line x1="348.6" y1="132.6" x2="353.7" y2="125.0" stroke="#fbfbfb" stroke-width="1.3" stroke-linecap="round"/>
<line x1="345.0" y1="132.6" x2="340.5" y2="126.0" stroke="#111" stroke-width="3.0" stroke-linecap="round"/>
<line x1="345.0" y1="132.6" x2="340.5" y2="126.0" stroke="#fbfbfb" stroke-width="1.3" stroke-linecap="round"/>
<line x1="348.6" y1="138.6" x2="353.7" y2="146.2" stroke="#111" stroke-width="3.0" stroke-linecap="round"/>
<line x1="348.6" y1="138.6" x2="353.7" y2="146.2" stroke="#fbfbfb" stroke-width="1.3" stroke-linecap="round"/>
<line x1="345.0" y1="138.6" x2="340.5" y2="145.2" stroke="#111" stroke-width="3.0" stroke-linecap="round"/>
<line x1="345.0" y1="138.6" x2="340.5" y2="145.2" stroke="#fbfbfb" stroke-width="1.3" stroke-linecap="round"/>
<line x1="331.0" y1="135.6" x2="389.5" y2="135.6" stroke="#111" stroke-width="0.8" stroke-linecap="butt" stroke-dasharray="7 2 1.5 2"/>
<path d="M339.8,166.3 L372,161.4 L372,163 Q364.5,172.3 372,181.6 L372,184.2 L339.8,178.3" fill="#fbfbfb" stroke="#111" stroke-width="1.1" stroke-linejoin="round" />
<circle cx="339.8" cy="172.3" r="6.0" fill="#fbfbfb" stroke="#111" stroke-width="1.1"/>
<line x1="336.8" y1="167.1" x2="336.8" y2="177.5" stroke="#111" stroke-width="0.8" stroke-linecap="butt"/>
<line x1="339.8" y1="166.3" x2="339.8" y2="178.3" stroke="#111" stroke-width="0.8" stroke-linecap="butt"/>
<line x1="342.8" y1="167.1" x2="342.8" y2="177.5" stroke="#111" stroke-width="0.8" stroke-linecap="butt"/>
<line x1="334.0" y1="172.3" x2="379.5" y2="172.3" stroke="#111" stroke-width="0.8" stroke-linecap="butt" stroke-dasharray="7 2 1.5 2"/>
<path d="M262.5,184.5 L258.2,182.9 L240.3,192.1 L240.3,205.6 L258.2,214.7 L262.5,213.1" fill="#fbfbfb" stroke="#111" stroke-width="1.1" stroke-linejoin="round" />
<path d="M262.5,185 Q264,186.5 266.5,186 Q270,183.4 276,184 Q282,184.2 284,189 Q285.4,198.8 284,208.6 Q282,213.4 276,213.6 Q270,214.2 266.5,211.6 Q264,211.1 262.5,212.6 Z" fill="#fbfbfb" stroke="#111" stroke-width="1.1" stroke-linejoin="round" />
<path d="M262,191.4 A7.6,7.6 0 0 0 262,206.2" fill="none" stroke="#111" stroke-width="1" stroke-dasharray="3 1.5" stroke-linejoin="round" />
<rect x="271.7" y="184.6" width="4.3" height="4.2" fill="#111" stroke="none" stroke-width="1" rx="0" />
<rect x="271.7" y="208.8" width="4.3" height="4.2" fill="#111" stroke="none" stroke-width="1" rx="0" />
<line x1="273.2" y1="175.5" x2="273.2" y2="181.5" stroke="#444" stroke-width="0.8" stroke-linecap="butt"/>
<line x1="273.2" y1="216.2" x2="273.2" y2="222.0" stroke="#444" stroke-width="0.8" stroke-linecap="butt"/>
<line x1="275.2" y1="175.5" x2="275.2" y2="181.5" stroke="#444" stroke-width="0.8" stroke-linecap="butt"/>
<line x1="275.2" y1="216.2" x2="275.2" y2="222.0" stroke="#444" stroke-width="0.8" stroke-linecap="butt"/>
<line x1="266.3" y1="188.3" x2="269.5" y2="193.2" stroke="#111" stroke-width="2.2" stroke-linecap="round"/>
<line x1="266.3" y1="188.3" x2="269.5" y2="193.2" stroke="#fbfbfb" stroke-width="0.8" stroke-linecap="round"/>
<line x1="281.5" y1="187.2" x2="278.2" y2="191.5" stroke="#111" stroke-width="2.2" stroke-linecap="round"/>
<line x1="281.5" y1="187.2" x2="278.2" y2="191.5" stroke="#fbfbfb" stroke-width="0.8" stroke-linecap="round"/>
<line x1="266.3" y1="209.3" x2="269.5" y2="204.4" stroke="#111" stroke-width="2.2" stroke-linecap="round"/>
<line x1="266.3" y1="209.3" x2="269.5" y2="204.4" stroke="#fbfbfb" stroke-width="0.8" stroke-linecap="round"/>
<line x1="281.5" y1="210.4" x2="278.2" y2="206.1" stroke="#111" stroke-width="2.2" stroke-linecap="round"/>
<line x1="281.5" y1="210.4" x2="278.2" y2="206.1" stroke="#fbfbfb" stroke-width="0.8" stroke-linecap="round"/>
<line x1="234.9" y1="198.8" x2="288.0" y2="198.8" stroke="#111" stroke-width="0.8" stroke-linecap="butt" stroke-dasharray="7 2 1.5 2"/>
<line x1="287.2" y1="198.8" x2="287.2" y2="226.0" stroke="#111" stroke-width="0.8" stroke-linecap="butt" stroke-dasharray="4 2"/>
<path d="M21.6,449.8 C23.0,449.2 25.3,447.9 30.0,446.2 C34.7,444.5 43.0,441.7 50.0,439.4 C57.0,437.1 64.5,434.8 72.0,432.5 C79.5,430.2 90.9,426.8 94.7,425.7" fill="none" stroke="#111" stroke-width="1" stroke-dasharray="4 2" stroke-linejoin="round" />
<path d="M21.6,449.8 C23.0,450.4 25.3,451.7 30.0,453.4 C34.7,455.1 43.0,457.9 50.0,460.2 C57.0,462.5 64.5,464.8 72.0,467.1 C79.5,469.4 90.9,472.8 94.7,473.9" fill="none" stroke="#111" stroke-width="1" stroke-dasharray="4 2" stroke-linejoin="round" />
<path d="M94.7,425.7 C101.4,424.2 122.5,419.2 135.0,416.7 C147.6,414.2 159.2,412.5 170.0,410.8 C180.8,409.1 185.0,408.1 200.0,406.3 C215.0,404.5 243.3,401.4 260.0,399.8 C276.7,398.2 286.7,397.5 300.0,396.6 C313.3,395.7 323.3,395.3 340.0,394.6 C356.7,393.9 383.3,393.0 400.0,392.6 C416.7,392.2 423.3,392.0 440.0,392.3 C456.7,392.6 483.3,393.4 500.0,394.2 C516.7,395.0 526.7,396.1 540.0,397.2 C553.3,398.3 566.7,399.4 580.0,401.0 C593.3,402.6 606.9,404.4 620.0,406.7 C633.1,408.9 647.1,411.9 658.8,414.5 C670.5,417.1 683.1,420.7 690.0,422.6 C696.9,424.5 696.2,424.7 700.0,426.0 C703.8,427.3 708.8,429.0 713.0,430.6 C717.2,432.2 722.0,434.0 725.3,435.4 C728.6,436.8 730.9,438.1 733.0,439.2 C735.1,440.3 736.5,440.9 738.0,441.9 C739.5,442.8 740.9,443.7 741.8,444.9 C742.7,446.1 743.3,448.3 743.6,449.0" fill="none" stroke="#111" stroke-width="1.1" stroke-linejoin="round" />
<path d="M94.7,473.9 C101.4,475.4 122.5,480.4 135.0,482.9 C147.6,485.4 159.2,487.1 170.0,488.8 C180.8,490.5 185.0,491.5 200.0,493.3 C215.0,495.1 243.3,498.2 260.0,499.8 C276.7,501.4 286.7,502.1 300.0,503.0 C313.3,503.9 323.3,504.3 340.0,505.0 C356.7,505.7 383.3,506.6 400.0,507.0 C416.7,507.4 423.3,507.6 440.0,507.3 C456.7,507.0 483.3,506.2 500.0,505.4 C516.7,504.6 526.7,503.5 540.0,502.4 C553.3,501.3 566.7,500.2 580.0,498.6 C593.3,497.0 606.9,495.2 620.0,492.9 C633.1,490.7 647.1,487.8 658.8,485.1 C670.5,482.5 683.1,478.9 690.0,477.0 C696.9,475.1 696.2,474.9 700.0,473.6 C703.8,472.3 708.8,470.6 713.0,469.0 C717.2,467.4 722.0,465.6 725.3,464.2 C728.6,462.8 730.9,461.5 733.0,460.4 C735.1,459.3 736.5,458.7 738.0,457.7 C739.5,456.8 740.9,455.9 741.8,454.7 C742.7,453.5 743.3,451.3 743.6,450.6" fill="none" stroke="#111" stroke-width="1.1" stroke-linejoin="round" />
<path d="M21.6,449.8 C21.8,449.2 21.9,447.6 23.0,446.2 C24.1,444.8 25.2,443.3 28.0,441.6 C30.8,439.9 35.5,437.6 40.0,435.8 C44.5,434.0 50.3,432.0 55.0,430.6 C59.7,429.2 63.8,428.1 68.0,427.4 C72.2,426.7 75.3,426.4 80.0,426.2 C84.7,426.0 93.3,426.0 96.0,426.0" fill="none" stroke="#111" stroke-width="1.1" stroke-linejoin="round" />
<path d="M96.0,426.0 L200.0,425.8 L286.5,425.2 L293.0,418.8 L319.5,418.8 L326.0,411.0 L347.4,411.0 L354.6,403.0 L377.0,403.0 L383.0,392.9 L441.5,392.7 L450.3,400.6 L471.0,400.6 L479.0,408.0 L498.5,408.0 L505.5,416.6 L527.0,416.6 L538.5,429.8" fill="none" stroke="#111" stroke-width="1.1" stroke-linejoin="round" />
<path d="M21.6,449.8 C21.8,450.4 21.9,452.0 23.0,453.4 C24.1,454.8 25.2,456.3 28.0,458.0 C30.8,459.7 35.5,462.0 40.0,463.8 C44.5,465.6 50.3,467.6 55.0,469.0 C59.7,470.4 63.8,471.5 68.0,472.2 C72.2,472.9 75.3,473.2 80.0,473.4 C84.7,473.6 93.3,473.6 96.0,473.6" fill="none" stroke="#111" stroke-width="1.1" stroke-linejoin="round" />
<path d="M96.0,473.6 L200.0,473.8 L286.5,474.4 L293.0,482.8 L319.5,482.8 L326.0,490.6 L347.4,490.6 L354.6,498.6 L377.0,498.6 L383.0,507.5 L441.5,507.7 L450.3,499.0 L471.0,499.0 L479.0,491.6 L498.5,491.6 L505.5,483.0 L527.0,483.0 L538.5,469.8" fill="none" stroke="#111" stroke-width="1.1" stroke-linejoin="round" />
<path d="M118.1,447.5 A66.3,66.3 0 0 1 241.2,415.7" fill="none" stroke="#111" stroke-width="1.2" stroke-dasharray="9 2.5 1.5 2.5" stroke-linejoin="round" />
<path d="M191.2,437.2 A60.5,60.5 0 0 1 301.7,417.7" fill="none" stroke="#111" stroke-width="1.2" stroke-dasharray="9 2.5 1.5 2.5" stroke-linejoin="round" />
<path d="M343.2,420.3 A70,66.3 0 0 1 468.8,420.3" fill="none" stroke="#111" stroke-width="1.2" stroke-dasharray="9 2.5 1.5 2.5" stroke-linejoin="round" />
<path d="M488.3,420.7 A62.0,62.0 0 0 1 604.1,439.0" fill="none" stroke="#111" stroke-width="1.2" stroke-dasharray="9 2.5 1.5 2.5" stroke-linejoin="round" />
<path d="M548.8,416.4 A66.9,66.9 0 0 1 673.6,447.5" fill="none" stroke="#111" stroke-width="1.2" stroke-dasharray="9 2.5 1.5 2.5" stroke-linejoin="round" />
<line x1="184.4" y1="380.8" x2="184.4" y2="429.8" stroke="#111" stroke-width="0.9" stroke-linecap="butt" stroke-dasharray="9 2.5 1.5 2.5"/>
<line x1="180.9" y1="385.3" x2="187.9" y2="385.3" stroke="#111" stroke-width="1" stroke-linecap="butt"/>
<line x1="250.4" y1="386.3" x2="250.4" y2="429.8" stroke="#111" stroke-width="0.9" stroke-linecap="butt" stroke-dasharray="9 2.5 1.5 2.5"/>
<line x1="246.9" y1="390.8" x2="253.9" y2="390.8" stroke="#111" stroke-width="1" stroke-linecap="butt"/>
<line x1="406.0" y1="391.8" x2="406.0" y2="429.8" stroke="#111" stroke-width="0.9" stroke-linecap="butt" stroke-dasharray="9 2.5 1.5 2.5"/>
<line x1="543.0" y1="385.3" x2="543.0" y2="429.8" stroke="#111" stroke-width="0.9" stroke-linecap="butt" stroke-dasharray="9 2.5 1.5 2.5"/>
<line x1="539.5" y1="389.8" x2="546.5" y2="389.8" stroke="#111" stroke-width="1" stroke-linecap="butt"/>
<line x1="606.7" y1="380.3" x2="606.7" y2="429.8" stroke="#111" stroke-width="0.9" stroke-linecap="butt" stroke-dasharray="9 2.5 1.5 2.5"/>
<line x1="603.2" y1="384.8" x2="610.2" y2="384.8" stroke="#111" stroke-width="1" stroke-linecap="butt"/>
<line x1="241.2" y1="415.7" x2="191.3" y2="445.7" stroke="#111" stroke-width="0.9" stroke-linecap="butt" stroke-dasharray="9 2.5 1.5 2.5"/>
<line x1="241.2" y1="415.7" x2="237.5" y2="413.1" stroke="#111" stroke-width="1" stroke-linecap="butt"/>
<line x1="241.2" y1="415.7" x2="240.8" y2="411.2" stroke="#111" stroke-width="1" stroke-linecap="butt"/>
<line x1="301.7" y1="417.7" x2="257.2" y2="445.6" stroke="#111" stroke-width="0.9" stroke-linecap="butt" stroke-dasharray="9 2.5 1.5 2.5"/>
<line x1="343.0" y1="420.4" x2="398.7" y2="446.4" stroke="#111" stroke-width="0.9" stroke-linecap="butt" stroke-dasharray="9 2.5 1.5 2.5"/>
<line x1="343.0" y1="420.4" x2="343.0" y2="415.9" stroke="#111" stroke-width="1" stroke-linecap="butt"/>
<line x1="343.0" y1="420.4" x2="346.5" y2="417.5" stroke="#111" stroke-width="1" stroke-linecap="butt"/>
<line x1="469.0" y1="420.4" x2="413.3" y2="446.4" stroke="#111" stroke-width="0.9" stroke-linecap="butt" stroke-dasharray="9 2.5 1.5 2.5"/>
<line x1="469.0" y1="420.4" x2="465.5" y2="417.5" stroke="#111" stroke-width="1" stroke-linecap="butt"/>
<line x1="469.0" y1="420.4" x2="469.0" y2="415.9" stroke="#111" stroke-width="1" stroke-linecap="butt"/>
<line x1="488.3" y1="420.7" x2="535.9" y2="446.0" stroke="#111" stroke-width="0.9" stroke-linecap="butt" stroke-dasharray="9 2.5 1.5 2.5"/>
<line x1="488.3" y1="420.7" x2="488.5" y2="416.2" stroke="#111" stroke-width="1" stroke-linecap="butt"/>
<line x1="488.3" y1="420.7" x2="491.9" y2="418.0" stroke="#111" stroke-width="1" stroke-linecap="butt"/>
<line x1="548.8" y1="416.4" x2="599.8" y2="445.8" stroke="#111" stroke-width="0.9" stroke-linecap="butt" stroke-dasharray="9 2.5 1.5 2.5"/>
<line x1="548.8" y1="416.4" x2="549.2" y2="411.9" stroke="#111" stroke-width="1" stroke-linecap="butt"/>
<line x1="548.8" y1="416.4" x2="552.4" y2="413.8" stroke="#111" stroke-width="1" stroke-linecap="butt"/>
<line x1="118.3" y1="446.0" x2="118.3" y2="453.0" stroke="#111" stroke-width="1" stroke-linecap="butt"/>
<line x1="672.5" y1="446.0" x2="672.5" y2="453.0" stroke="#111" stroke-width="1" stroke-linecap="butt"/>
<pattern id="th" width="3.1" height="3.1" patternUnits="userSpaceOnUse" patternTransform="rotate(50)"><rect width="3.1" height="3.1" fill="#f6f6f6"/><rect width="3.1" height="1.4" fill="#1a1a1a"/></pattern>
<pattern id="thm" width="3.1" height="3.1" patternUnits="userSpaceOnUse" patternTransform="rotate(-50)"><rect width="3.1" height="3.1" fill="#f6f6f6"/><rect width="3.1" height="1.4" fill="#1a1a1a"/></pattern>
<g transform="translate(166.8,449.8)">
<path d="M39.2,-18.5 L19.5,-19.5 A19.5,19.5 0 0 0 19.5,19.5 L39.2,18.5 L44.7,11.0 L44.7,-11.0 Z" fill="url(#th)" stroke="#111" stroke-width="1.0" stroke-linejoin="round" />
<path d="M3.5,-9.5 L14,-11 L16,-8 L16,8 L14,11 L3.5,9.5 Z" fill="#f4f4f4" stroke="none" stroke-width="1" stroke-linejoin="round" />
<rect x="2.5" y="-8.4" width="10.5" height="3.6" fill="#f4f4f4" stroke="#111" stroke-width="0.7" rx="0" />
<line x1="13.0" y1="-6.6" x2="17.0" y2="-6.6" stroke="#111" stroke-width="0.7" stroke-linecap="butt"/>
<rect x="2.5" y="-1.6" width="10.5" height="3.6" fill="#f4f4f4" stroke="#111" stroke-width="0.7" rx="0" />
<line x1="13.0" y1="0.2" x2="17.0" y2="0.2" stroke="#111" stroke-width="0.7" stroke-linecap="butt"/>
<rect x="2.5" y="4.8" width="10.5" height="3.6" fill="#f4f4f4" stroke="#111" stroke-width="0.7" rx="0" />
<line x1="13.0" y1="6.6" x2="17.0" y2="6.6" stroke="#111" stroke-width="0.7" stroke-linecap="butt"/>
<line x1="17.0" y1="-9.0" x2="17.0" y2="9.0" stroke="#111" stroke-width="0.7" stroke-linecap="butt" stroke-dasharray="3 1.5"/>
<path d="M37.7,-16.5 L19.5,-16.5 A16.5,16.5 0 0 0 6.5,-10.2" fill="none" stroke="#111" stroke-width="3.5" stroke-dasharray="4.2 1.3"/>
<path d="M37.7,16.5 L19.5,16.5 A16.5,16.5 0 0 1 6.5,10.2" fill="none" stroke="#111" stroke-width="3.5" stroke-dasharray="4.2 1.3"/>
<path d="M1.8,-9.3 q-3,2.7 0,5.4" fill="#f4f4f4" stroke="#111" stroke-width="0.9" stroke-linejoin="round" />
<line x1="-44.5" y1="-6.6" x2="0.8" y2="-6.6" stroke="#111" stroke-width="3.1" stroke-linecap="butt"/>
<path d="M0.6,-2.5 q-3,2.7 0,5.4" fill="#f4f4f4" stroke="#111" stroke-width="0.9" stroke-linejoin="round" />
<line x1="-44.5" y1="0.2" x2="-0.4" y2="0.2" stroke="#111" stroke-width="3.1" stroke-linecap="butt"/>
<path d="M1.8,3.9 q-3,2.7 0,5.4" fill="#f4f4f4" stroke="#111" stroke-width="0.9" stroke-linejoin="round" />
<line x1="-44.5" y1="6.6" x2="0.8" y2="6.6" stroke="#111" stroke-width="3.1" stroke-linecap="butt"/>
</g>
<g transform="translate(233.7,449.8)">
<path d="M18.9,-18.9 A18.9,18.9 0 0 0 18.9,18.9 L26.9,18.3 Q31.9,16.3 31.6,16.3 Q40.6,15.3 40.6,6.3 L40.6,-6.3 Q40.6,-15.3 31.6,-16.3 Q31.9,-16.3 26.9,-18.3 Z" fill="url(#th)" stroke="#111" stroke-width="1.0" stroke-linejoin="round" />
<path d="M3.5,-9.5 L14,-11 L16,-8 L16,8 L14,11 L3.5,9.5 Z" fill="#f4f4f4" stroke="none" stroke-width="1" stroke-linejoin="round" />
<rect x="2.5" y="-6.3" width="10.5" height="3.6" fill="#f4f4f4" stroke="#111" stroke-width="0.7" rx="0" />
<line x1="13.0" y1="-4.5" x2="17.0" y2="-4.5" stroke="#111" stroke-width="0.7" stroke-linecap="butt"/>
<rect x="2.5" y="3.0" width="10.5" height="3.6" fill="#f4f4f4" stroke="#111" stroke-width="0.7" rx="0" />
<line x1="13.0" y1="4.8" x2="17.0" y2="4.8" stroke="#111" stroke-width="0.7" stroke-linecap="butt"/>
<line x1="17.0" y1="-9.0" x2="17.0" y2="9.0" stroke="#111" stroke-width="0.7" stroke-linecap="butt" stroke-dasharray="3 1.5"/>
<path d="M31.6,-15.9 L18.9,-15.9 A15.9,15.9 0 0 0 6.4,-9.8" fill="none" stroke="#111" stroke-width="3.5" stroke-dasharray="4.2 1.3"/>
<path d="M31.6,15.9 L18.9,15.9 A15.9,15.9 0 0 1 6.4,9.8" fill="none" stroke="#111" stroke-width="3.5" stroke-dasharray="4.2 1.3"/>
<path d="M1.1,-7.2 q-3,2.7 0,5.4" fill="#f4f4f4" stroke="#111" stroke-width="0.9" stroke-linejoin="round" />
<line x1="-42.3" y1="-4.5" x2="0.1" y2="-4.5" stroke="#111" stroke-width="2.8" stroke-linecap="butt"/>
<path d="M1.2,2.1 q-3,2.7 0,5.4" fill="#f4f4f4" stroke="#111" stroke-width="0.9" stroke-linejoin="round" />
<line x1="-42.3" y1="4.8" x2="0.2" y2="4.8" stroke="#111" stroke-width="2.8" stroke-linecap="butt"/>
</g>
<line x1="211.5" y1="448.0" x2="233.0" y2="448.0" stroke="#111" stroke-width="0.8" stroke-linecap="butt"/>
<line x1="211.5" y1="452.2" x2="233.0" y2="452.2" stroke="#111" stroke-width="0.8" stroke-linecap="butt"/>
<g transform="translate(388.4,449.8)">
<path d="M19.4,-19.4 A19.4,19.4 0 0 0 19.4,19.4 L27.4,18.8 Q32.4,16.8 34.2,16.8 Q43.2,15.8 43.2,6.8 L43.2,-6.8 Q43.2,-15.8 34.2,-16.8 Q32.4,-16.8 27.4,-18.8 Z" fill="url(#th)" stroke="#111" stroke-width="1.0" stroke-linejoin="round" />
<path d="M3.5,-9.5 L14,-11 L16,-8 L16,8 L14,11 L3.5,9.5 Z" fill="#f4f4f4" stroke="none" stroke-width="1" stroke-linejoin="round" />
<rect x="2.5" y="-8.4" width="10.5" height="3.6" fill="#f4f4f4" stroke="#111" stroke-width="0.7" rx="0" />
<line x1="13.0" y1="-6.6" x2="17.0" y2="-6.6" stroke="#111" stroke-width="0.7" stroke-linecap="butt"/>
<rect x="2.5" y="-1.6" width="10.5" height="3.6" fill="#f4f4f4" stroke="#111" stroke-width="0.7" rx="0" />
<line x1="13.0" y1="0.2" x2="17.0" y2="0.2" stroke="#111" stroke-width="0.7" stroke-linecap="butt"/>
<rect x="2.5" y="4.8" width="10.5" height="3.6" fill="#f4f4f4" stroke="#111" stroke-width="0.7" rx="0" />
<line x1="13.0" y1="6.6" x2="17.0" y2="6.6" stroke="#111" stroke-width="0.7" stroke-linecap="butt"/>
<line x1="17.0" y1="-9.0" x2="17.0" y2="9.0" stroke="#111" stroke-width="0.7" stroke-linecap="butt" stroke-dasharray="3 1.5"/>
<path d="M34.2,-16.4 L19.4,-16.4 A16.4,16.4 0 0 0 6.5,-10.1" fill="none" stroke="#111" stroke-width="3.5" stroke-dasharray="4.2 1.3"/>
<path d="M34.2,16.4 L19.4,16.4 A16.4,16.4 0 0 1 6.5,10.1" fill="none" stroke="#111" stroke-width="3.5" stroke-dasharray="4.2 1.3"/>
<path d="M1.8,-9.3 q-3,2.7 0,5.4" fill="#f4f4f4" stroke="#111" stroke-width="0.9" stroke-linejoin="round" />
<line x1="-42.4" y1="-6.6" x2="0.8" y2="-6.6" stroke="#111" stroke-width="3.0" stroke-linecap="butt"/>
<path d="M0.6,-2.5 q-3,2.7 0,5.4" fill="#f4f4f4" stroke="#111" stroke-width="0.9" stroke-linejoin="round" />
<line x1="-42.4" y1="0.2" x2="-0.4" y2="0.2" stroke="#111" stroke-width="3.0" stroke-linecap="butt"/>
<path d="M1.8,3.9 q-3,2.7 0,5.4" fill="#f4f4f4" stroke="#111" stroke-width="0.9" stroke-linejoin="round" />
<line x1="-42.4" y1="6.6" x2="0.8" y2="6.6" stroke="#111" stroke-width="3.0" stroke-linecap="butt"/>
</g>
<g transform="translate(625.8,449.8) scale(-1,1)">
<path d="M40.3,-18.5 L19.5,-19.5 A19.5,19.5 0 0 0 19.5,19.5 L40.3,18.5 L45.8,11.0 L45.8,-11.0 Z" fill="url(#thm)" stroke="#111" stroke-width="1.0" stroke-linejoin="round" />
<path d="M3.5,-9.5 L14,-11 L16,-8 L16,8 L14,11 L3.5,9.5 Z" fill="#f4f4f4" stroke="none" stroke-width="1" stroke-linejoin="round" />
<rect x="2.5" y="-9.2" width="10.5" height="3.6" fill="#f4f4f4" stroke="#111" stroke-width="0.7" rx="0" />
<line x1="13.0" y1="-7.4" x2="17.0" y2="-7.4" stroke="#111" stroke-width="0.7" stroke-linecap="butt"/>
<rect x="2.5" y="-2.6" width="10.5" height="3.6" fill="#f4f4f4" stroke="#111" stroke-width="0.7" rx="0" />
<line x1="13.0" y1="-0.8" x2="17.0" y2="-0.8" stroke="#111" stroke-width="0.7" stroke-linecap="butt"/>
<rect x="2.5" y="4.2" width="10.5" height="3.6" fill="#f4f4f4" stroke="#111" stroke-width="0.7" rx="0" />
<line x1="13.0" y1="6.0" x2="17.0" y2="6.0" stroke="#111" stroke-width="0.7" stroke-linecap="butt"/>
<line x1="17.0" y1="-9.0" x2="17.0" y2="9.0" stroke="#111" stroke-width="0.7" stroke-linecap="butt" stroke-dasharray="3 1.5"/>
<path d="M38.8,-16.5 L19.5,-16.5 A16.5,16.5 0 0 0 6.5,-10.2" fill="none" stroke="#111" stroke-width="3.5" stroke-dasharray="4.2 1.3"/>
<path d="M38.8,16.5 L19.5,16.5 A16.5,16.5 0 0 1 6.5,10.2" fill="none" stroke="#111" stroke-width="3.5" stroke-dasharray="4.2 1.3"/>
<path d="M2.1,-10.1 q-3,2.7 0,5.4" fill="#f4f4f4" stroke="#111" stroke-width="0.9" stroke-linejoin="round" />
<line x1="-42.0" y1="-7.4" x2="1.1" y2="-7.4" stroke="#111" stroke-width="3.1" stroke-linecap="butt"/>
<path d="M0.6,-3.5 q-3,2.7 0,5.4" fill="#f4f4f4" stroke="#111" stroke-width="0.9" stroke-linejoin="round" />
<line x1="-42.0" y1="-0.8" x2="-0.4" y2="-0.8" stroke="#111" stroke-width="3.1" stroke-linecap="butt"/>
<path d="M1.5,3.3 q-3,2.7 0,5.4" fill="#f4f4f4" stroke="#111" stroke-width="0.9" stroke-linejoin="round" />
<line x1="-42.0" y1="6.0" x2="0.5" y2="6.0" stroke="#111" stroke-width="3.1" stroke-linecap="butt"/>
</g>
<g transform="translate(561.0,449.8) scale(-1,1)">
<path d="M19.2,-19.2 A19.2,19.2 0 0 0 19.2,19.2 L27.2,18.6 Q32.2,16.6 33.8,16.6 Q42.8,15.6 42.8,6.6 L42.8,-6.6 Q42.8,-15.6 33.8,-16.6 Q32.2,-16.6 27.2,-18.6 Z" fill="url(#thm)" stroke="#111" stroke-width="1.0" stroke-linejoin="round" />
<path d="M3.5,-9.5 L14,-11 L16,-8 L16,8 L14,11 L3.5,9.5 Z" fill="#f4f4f4" stroke="none" stroke-width="1" stroke-linejoin="round" />
<rect x="2.5" y="-6.3" width="10.5" height="3.6" fill="#f4f4f4" stroke="#111" stroke-width="0.7" rx="0" />
<line x1="13.0" y1="-4.5" x2="17.0" y2="-4.5" stroke="#111" stroke-width="0.7" stroke-linecap="butt"/>
<rect x="2.5" y="3.0" width="10.5" height="3.6" fill="#f4f4f4" stroke="#111" stroke-width="0.7" rx="0" />
<line x1="13.0" y1="4.8" x2="17.0" y2="4.8" stroke="#111" stroke-width="0.7" stroke-linecap="butt"/>
<line x1="17.0" y1="-9.0" x2="17.0" y2="9.0" stroke="#111" stroke-width="0.7" stroke-linecap="butt" stroke-dasharray="3 1.5"/>
<path d="M33.8,-16.2 L19.2,-16.2 A16.2,16.2 0 0 0 6.4,-10.0" fill="none" stroke="#111" stroke-width="3.5" stroke-dasharray="4.2 1.3"/>
<path d="M33.8,16.2 L19.2,16.2 A16.2,16.2 0 0 1 6.4,10.0" fill="none" stroke="#111" stroke-width="3.5" stroke-dasharray="4.2 1.3"/>
<path d="M1.1,-7.2 q-3,2.7 0,5.4" fill="#f4f4f4" stroke="#111" stroke-width="0.9" stroke-linejoin="round" />
<line x1="-38.5" y1="-4.5" x2="0.1" y2="-4.5" stroke="#111" stroke-width="2.8" stroke-linecap="butt"/>
<path d="M1.2,2.1 q-3,2.7 0,5.4" fill="#f4f4f4" stroke="#111" stroke-width="0.9" stroke-linejoin="round" />
<line x1="-38.5" y1="4.8" x2="0.2" y2="4.8" stroke="#111" stroke-width="2.8" stroke-linecap="butt"/>
</g>
<line x1="561.5" y1="448.0" x2="580.0" y2="448.0" stroke="#111" stroke-width="0.8" stroke-linecap="butt"/>
<line x1="561.5" y1="452.2" x2="580.0" y2="452.2" stroke="#111" stroke-width="0.8" stroke-linecap="butt"/>
<ellipse cx="310.0" cy="449.8" rx="24.5" ry="9.0" fill="#fbfbfb" stroke="#111" stroke-width="1" />
<ellipse cx="322.8" cy="449.8" rx="11.5" ry="8.0" fill="#fbfbfb" stroke="#111" stroke-width="1" />
<ellipse cx="283.0" cy="449.8" rx="6.8" ry="8.1" fill="url(#hl)" stroke="#111" stroke-width="1" />
<line x1="289.8" y1="428.2" x2="312.8" y2="472.8" stroke="#111" stroke-width="3.6" stroke-linecap="round"/>
<line x1="289.8" y1="428.2" x2="312.8" y2="472.8" stroke="#fbfbfb" stroke-width="1.8" stroke-linecap="round"/>
<line x1="314.0" y1="425.5" x2="292.5" y2="471.5" stroke="#111" stroke-width="3.6" stroke-linecap="round"/>
<line x1="314.0" y1="425.5" x2="292.5" y2="471.5" stroke="#fbfbfb" stroke-width="1.8" stroke-linecap="round"/>
<circle cx="301.3" cy="449.3" r="1.5" fill="#fbfbfb" stroke="#111" stroke-width="0.8"/>
<circle cx="339.8" cy="449.3" r="1.9" fill="#fbfbfb" stroke="#111" stroke-width="0.9"/>
<path d="M463,433.5 Q455.7,437 455.7,449.5 Q455.7,462 463,465.5 Q475,467 494.5,455 L494.5,444 Q475,432 463,433.5 Z" fill="#fbfbfb" stroke="#111" stroke-width="1" stroke-linejoin="round" />
<path d="M462,436.5 Q458.5,440 458.5,449.5 Q458.5,459 462,462.5" fill="none" stroke="#111" stroke-width="0.8" stroke-linejoin="round" />
<path d="M474,440 L488,440 Q495.4,442 495.4,449.5 Q495.4,457 488,459 L474,459" fill="none" stroke="#111" stroke-width="0.9" stroke-linejoin="round" />
<ellipse cx="474.6" cy="449.5" rx="10.4" ry="9.5" fill="#fbfbfb" stroke="#111" stroke-width="1" />
<line x1="458.5" y1="449.0" x2="466.0" y2="443.0" stroke="#111" stroke-width="1.6" stroke-linecap="butt"/>
<line x1="458.5" y1="450.0" x2="466.0" y2="456.0" stroke="#111" stroke-width="1.6" stroke-linecap="butt"/>
<circle cx="457.2" cy="449.5" r="1.8" fill="#fbfbfb" stroke="#111" stroke-width="0.9"/>
<rect x="466.5" y="435.0" width="4.0" height="4.2" fill="#111" stroke="none" stroke-width="1" rx="0" />
<rect x="466.5" y="461.2" width="4.0" height="4.2" fill="#111" stroke="none" stroke-width="1" rx="0" />
<line x1="471.5" y1="437.0" x2="480.0" y2="437.0" stroke="#999" stroke-width="1.6" stroke-linecap="butt"/>
<line x1="471.5" y1="463.3" x2="480.0" y2="463.3" stroke="#999" stroke-width="1.6" stroke-linecap="butt"/>
<ellipse cx="507.1" cy="448.2" rx="5.4" ry="7.7" fill="#777" stroke="#111" stroke-width="1" />
<ellipse cx="507.1" cy="448.2" rx="3.0" ry="5.0" fill="#ccc" stroke="#111" stroke-width="0.7" />
<line x1="507.1" y1="437.0" x2="507.1" y2="459.6" stroke="#111" stroke-width="0.9" stroke-linecap="butt"/>
<path d="M510,439 Q515.5,448 510,457.5" fill="none" stroke="#111" stroke-width="0.9" stroke-linejoin="round" />
<text x="500.3" y="468.6" font-size="6.5" font-family='"Liberation Sans", sans-serif' font-weight="bold" font-style="normal" text-anchor="start" fill="#222"  stroke="#222" stroke-width="0.25">RF</text>
<line x1="271.0" y1="422.4" x2="286.4" y2="422.4" stroke="#111" stroke-width="2.4" stroke-linecap="butt"/>
<line x1="271.0" y1="477.2" x2="286.4" y2="477.2" stroke="#111" stroke-width="2.4" stroke-linecap="butt"/>
<line x1="302.4" y1="415.4" x2="318.8" y2="415.4" stroke="#111" stroke-width="2.4" stroke-linecap="butt"/>
<line x1="302.4" y1="486.2" x2="318.8" y2="486.2" stroke="#111" stroke-width="2.4" stroke-linecap="butt"/>
<line x1="331.6" y1="407.2" x2="347.5" y2="407.2" stroke="#111" stroke-width="2.4" stroke-linecap="butt"/>
<line x1="331.6" y1="494.4" x2="347.5" y2="494.4" stroke="#111" stroke-width="2.4" stroke-linecap="butt"/>
<line x1="360.3" y1="399.3" x2="377.5" y2="399.3" stroke="#111" stroke-width="2.4" stroke-linecap="butt"/>
<line x1="360.3" y1="502.3" x2="377.5" y2="502.3" stroke="#111" stroke-width="2.4" stroke-linecap="butt"/>
<line x1="450.3" y1="398.0" x2="467.4" y2="398.0" stroke="#111" stroke-width="2.4" stroke-linecap="butt"/>
<line x1="450.3" y1="501.6" x2="467.4" y2="501.6" stroke="#111" stroke-width="2.4" stroke-linecap="butt"/>
<line x1="478.0" y1="406.7" x2="497.0" y2="406.7" stroke="#111" stroke-width="2.4" stroke-linecap="butt"/>
<line x1="478.0" y1="492.9" x2="497.0" y2="492.9" stroke="#111" stroke-width="2.4" stroke-linecap="butt"/>
<line x1="502.5" y1="414.6" x2="525.5" y2="414.6" stroke="#111" stroke-width="2.4" stroke-linecap="butt"/>
<line x1="502.5" y1="485.0" x2="525.5" y2="485.0" stroke="#111" stroke-width="2.4" stroke-linecap="butt"/>
<text x="268.0" y="419.6" font-size="10.3" font-family='"Liberation Sans", sans-serif' font-weight="normal" font-style="italic" text-anchor="start" fill="#222" textLength="15.0" lengthAdjust="spacingAndGlyphs"  stroke="#222" stroke-width="0.35">4·7″</text>
<text x="299.5" y="413.0" font-size="10.3" font-family='"Liberation Sans", sans-serif' font-weight="normal" font-style="italic" text-anchor="start" fill="#222" textLength="15.0" lengthAdjust="spacingAndGlyphs"  stroke="#222" stroke-width="0.35">4·7″</text>
<text x="328.0" y="405.6" font-size="10.3" font-family='"Liberation Sans", sans-serif' font-weight="normal" font-style="italic" text-anchor="start" fill="#222" textLength="15.0" lengthAdjust="spacingAndGlyphs"  stroke="#222" stroke-width="0.35">4·7″</text>
<text x="351.5" y="395.4" font-size="10.3" font-family='"Liberation Sans", sans-serif' font-weight="normal" font-style="italic" text-anchor="start" fill="#222" textLength="15.0" lengthAdjust="spacingAndGlyphs"  stroke="#222" stroke-width="0.35">4·7″</text>
<text x="458.9" y="396.0" font-size="10.3" font-family='"Liberation Sans", sans-serif' font-weight="normal" font-style="italic" text-anchor="start" fill="#222" textLength="15.0" lengthAdjust="spacingAndGlyphs"  stroke="#222" stroke-width="0.35">4·7″</text>
<text x="484.3" y="404.4" font-size="10.3" font-family='"Liberation Sans", sans-serif' font-weight="normal" font-style="italic" text-anchor="start" fill="#222" textLength="15.0" lengthAdjust="spacingAndGlyphs"  stroke="#222" stroke-width="0.35">4·7″</text>
<text x="510.4" y="411.6" font-size="10.3" font-family='"Liberation Sans", sans-serif' font-weight="normal" font-style="italic" text-anchor="start" fill="#222" textLength="15.0" lengthAdjust="spacingAndGlyphs"  stroke="#222" stroke-width="0.35">4·7″</text>
<text x="270.5" y="487.0" font-size="10.3" font-family='"Liberation Sans", sans-serif' font-weight="normal" font-style="italic" text-anchor="start" fill="#222" textLength="15.0" lengthAdjust="spacingAndGlyphs"  stroke="#222" stroke-width="0.35">4·7″</text>
<text x="300.0" y="495.5" font-size="10.3" font-family='"Liberation Sans", sans-serif' font-weight="normal" font-style="italic" text-anchor="start" fill="#222" textLength="15.0" lengthAdjust="spacingAndGlyphs"  stroke="#222" stroke-width="0.35">4·7″</text>
<text x="329.5" y="504.5" font-size="10.3" font-family='"Liberation Sans", sans-serif' font-weight="normal" font-style="italic" text-anchor="start" fill="#222" textLength="15.0" lengthAdjust="spacingAndGlyphs"  stroke="#222" stroke-width="0.35">4·7″</text>
<text x="358.5" y="512.5" font-size="10.3" font-family='"Liberation Sans", sans-serif' font-weight="normal" font-style="italic" text-anchor="start" fill="#222" textLength="15.0" lengthAdjust="spacingAndGlyphs"  stroke="#222" stroke-width="0.35">4·7″</text>
<text x="458.5" y="513.0" font-size="10.3" font-family='"Liberation Sans", sans-serif' font-weight="normal" font-style="italic" text-anchor="start" fill="#222" textLength="15.0" lengthAdjust="spacingAndGlyphs"  stroke="#222" stroke-width="0.35">4·7″</text>
<text x="484.0" y="503.0" font-size="10.3" font-family='"Liberation Sans", sans-serif' font-weight="normal" font-style="italic" text-anchor="start" fill="#222" textLength="15.0" lengthAdjust="spacingAndGlyphs"  stroke="#222" stroke-width="0.35">4·7″</text>
<text x="511.8" y="492.5" font-size="10.3" font-family='"Liberation Sans", sans-serif' font-weight="normal" font-style="italic" text-anchor="start" fill="#222" textLength="15.0" lengthAdjust="spacingAndGlyphs"  stroke="#222" stroke-width="0.35">4·7″</text>
<line x1="403.0" y1="376.5" x2="403.0" y2="392.5" stroke="#111" stroke-width="2.4" stroke-linecap="butt"/>
<line x1="402.4" y1="507.3" x2="402.4" y2="524.3" stroke="#111" stroke-width="2.4" stroke-linecap="butt"/>
<text x="393.5" y="376.0" font-size="9.6" font-family='"Liberation Sans", sans-serif' font-weight="normal" font-style="italic" text-anchor="start" fill="#222" textLength="15.0" lengthAdjust="spacingAndGlyphs"  stroke="#222" stroke-width="0.35">4·7″</text>
<text x="395.5" y="534.5" font-size="9.6" font-family='"Liberation Sans", sans-serif' font-weight="normal" font-style="italic" text-anchor="start" fill="#222" textLength="15.0" lengthAdjust="spacingAndGlyphs"  stroke="#222" stroke-width="0.35">4·7″</text>
<line x1="427.4" y1="376.5" x2="427.4" y2="392.5" stroke="#111" stroke-width="2.4" stroke-linecap="butt"/>
<line x1="426.8" y1="507.3" x2="426.8" y2="524.3" stroke="#111" stroke-width="2.4" stroke-linecap="butt"/>
<text x="417.9" y="376.0" font-size="9.6" font-family='"Liberation Sans", sans-serif' font-weight="normal" font-style="italic" text-anchor="start" fill="#222" textLength="15.0" lengthAdjust="spacingAndGlyphs"  stroke="#222" stroke-width="0.35">4·7″</text>
<text x="419.9" y="534.5" font-size="9.6" font-family='"Liberation Sans", sans-serif' font-weight="normal" font-style="italic" text-anchor="start" fill="#222" textLength="15.0" lengthAdjust="spacingAndGlyphs"  stroke="#222" stroke-width="0.35">4·7″</text>
<text x="96.5" y="453.3" font-size="9" font-family='"Liberation Sans", sans-serif' font-weight="normal" font-style="italic" text-anchor="start" fill="#222" textLength="19.0" lengthAdjust="spacingAndGlyphs"  stroke="#222" stroke-width="0.25">3-12</text>
<line x1="116.0" y1="446.0" x2="119.0" y2="446.0" stroke="#111" stroke-width="0.8" stroke-linecap="butt"/>
<text x="216.2" y="442.0" font-size="8.5" font-family='"Liberation Sans", sans-serif' font-weight="normal" font-style="italic" text-anchor="start" fill="#222" textLength="14.5" lengthAdjust="spacingAndGlyphs"  stroke="#222" stroke-width="0.25">2-12″</text>
<text x="336.4" y="440.2" font-size="8.8" font-family='"Liberation Sans", sans-serif' font-weight="normal" font-style="italic" text-anchor="start" fill="#222" textLength="20.5" lengthAdjust="spacingAndGlyphs"  stroke="#222" stroke-width="0.25">3-12″</text>
<text x="563.5" y="440.0" font-size="8.2" font-family='"Liberation Sans", sans-serif' font-weight="normal" font-style="italic" text-anchor="start" fill="#222" textLength="15.0" lengthAdjust="spacingAndGlyphs"  stroke="#222" stroke-width="0.25">2-12″</text>
<text x="678.0" y="452.5" font-size="8.8" font-family='"Liberation Sans", sans-serif' font-weight="normal" font-style="italic" text-anchor="start" fill="#222" textLength="20.0" lengthAdjust="spacingAndGlyphs"  stroke="#222" stroke-width="0.25">3-12″</text>
<text x="144.0" y="399.0" font-size="8.5" font-family='"Liberation Sans", sans-serif' font-weight="normal" font-style="italic" text-anchor="middle" fill="#222" transform="rotate(-45 144.0 399.0)" stroke="#222" stroke-width="0.25">90°</text>
<text x="213.0" y="389.5" font-size="8.5" font-family='"Liberation Sans", sans-serif' font-weight="normal" font-style="italic" text-anchor="middle" fill="#222" transform="rotate(10 213.0 389.5)" stroke="#222" stroke-width="0.25">60°</text>
<text x="213.0" y="403.0" font-size="8.5" font-family='"Liberation Sans", sans-serif' font-weight="normal" font-style="italic" text-anchor="middle" fill="#222" transform="rotate(-35 213.0 403.0)" stroke="#222" stroke-width="0.25">80°</text>
<text x="279.0" y="395.0" font-size="8.5" font-family='"Liberation Sans", sans-serif' font-weight="normal" font-style="italic" text-anchor="middle" fill="#222" transform="rotate(15 279.0 395.0)" stroke="#222" stroke-width="0.25">60°</text>
<text x="381.0" y="390.0" font-size="8.5" font-family='"Liberation Sans", sans-serif' font-weight="normal" font-style="italic" text-anchor="middle" fill="#222" transform="rotate(-25 381.0 390.0)" stroke="#222" stroke-width="0.25">65°</text>
<text x="437.0" y="389.5" font-size="8.5" font-family='"Liberation Sans", sans-serif' font-weight="normal" font-style="italic" text-anchor="middle" fill="#222"  stroke="#222" stroke-width="0.25">6.5°</text>
<text x="518.0" y="392.5" font-size="8.5" font-family='"Liberation Sans", sans-serif' font-weight="normal" font-style="italic" text-anchor="middle" fill="#222" transform="rotate(-25 518.0 392.5)" stroke="#222" stroke-width="0.25">65°</text>
<text x="578.0" y="388.5" font-size="8" font-family='"Liberation Sans", sans-serif' font-weight="normal" font-style="italic" text-anchor="middle" fill="#222" transform="rotate(-20 578.0 388.5)" stroke="#222" stroke-width="0.25">60°</text>
<text x="581.0" y="398.5" font-size="8" font-family='"Liberation Sans", sans-serif' font-weight="normal" font-style="italic" text-anchor="middle" fill="#222" transform="rotate(25 581.0 398.5)" stroke="#222" stroke-width="0.25">80°</text>
<text x="655.0" y="400.5" font-size="8.5" font-family='"Liberation Sans", sans-serif' font-weight="normal" font-style="italic" text-anchor="middle" fill="#222" transform="rotate(35 655.0 400.5)" stroke="#222" stroke-width="0.25">90°</text>
<g fill="#2a2a2a">
<ellipse cx="353.5" cy="76" rx="4.6" ry="2.4" transform="rotate(12 353.5 76)" opacity="0.85"/>
<ellipse cx="347.5" cy="74" rx="3" ry="1.2" transform="rotate(20 347.5 74)" opacity="0.6"/>
<ellipse cx="351" cy="79.3" rx="2" ry="1" opacity="0.7"/>
<ellipse cx="745.6" cy="431.5" rx="1.7" ry="2.8" opacity="0.9"/>
<ellipse cx="744.5" cy="427" rx="0.9" ry="1.2" opacity="0.8"/>
<circle cx="496.5" cy="32.5" r="1" opacity="0.6"/><circle cx="497" cy="36" r="0.9" opacity="0.6"/><circle cx="496" cy="40.5" r="1" opacity="0.55"/>
</g>
</g>
</svg>
</body></html>
